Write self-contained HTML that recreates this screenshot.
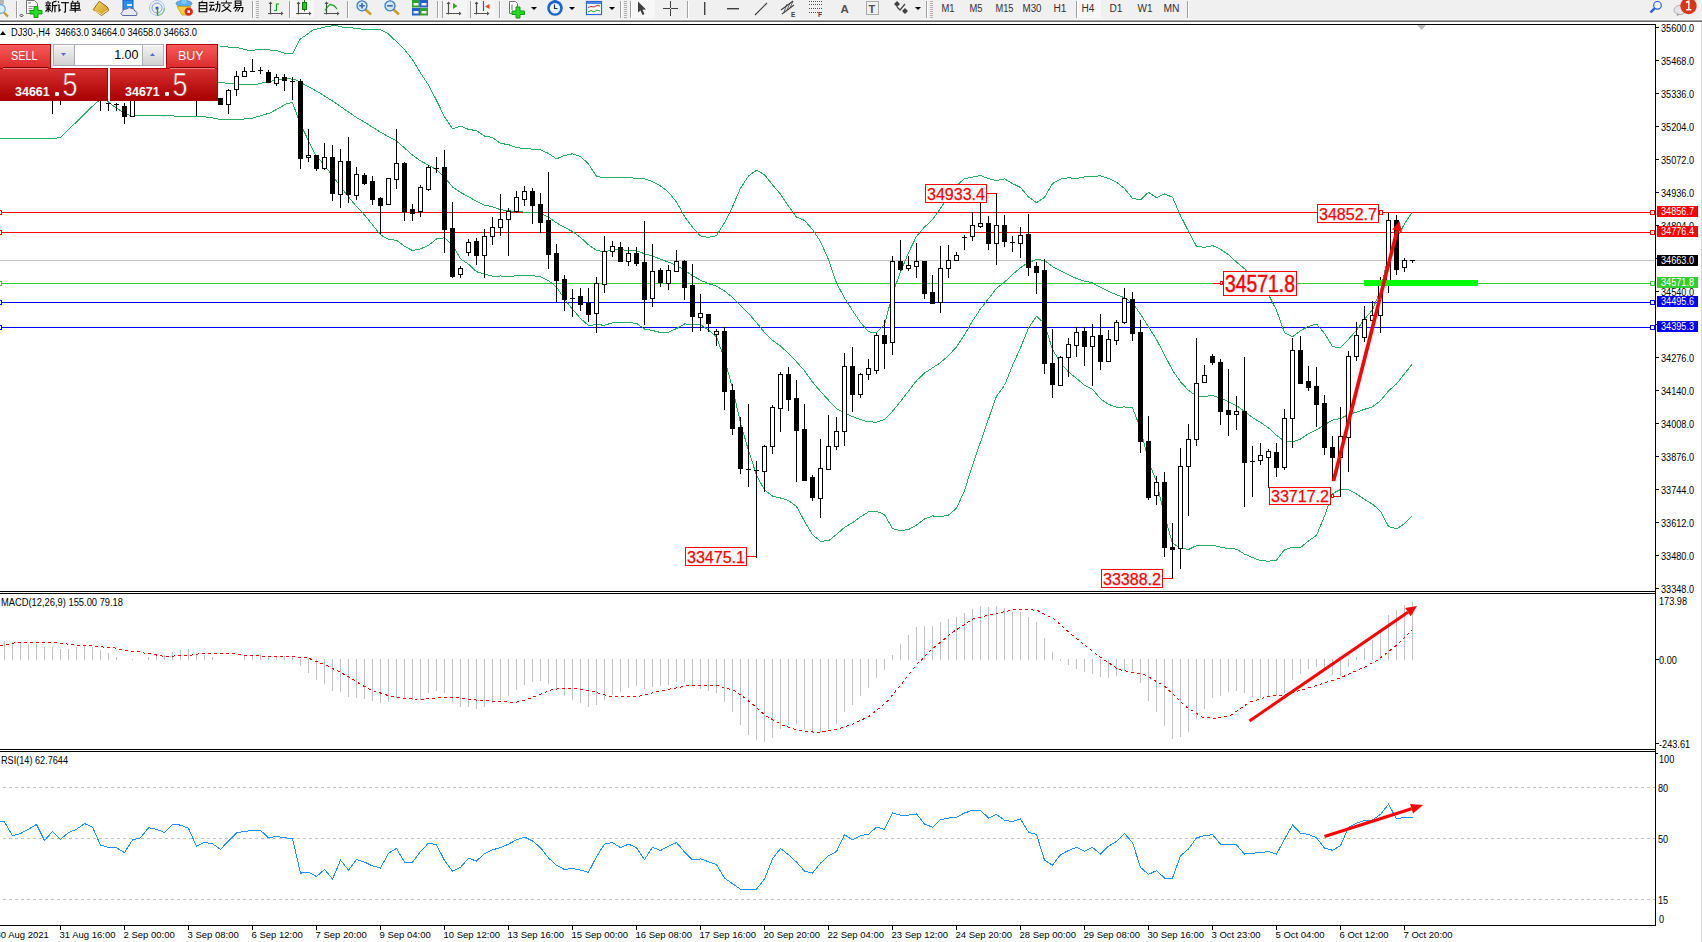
<!DOCTYPE html><html><head><meta charset="utf-8"><style>html,body{margin:0;padding:0;background:#fff;width:1702px;height:942px;overflow:hidden}svg{position:absolute;left:0;top:0}</style></head><body>
<svg width="1702" height="942" viewBox="0 0 1702 942">
<g shape-rendering="crispEdges">
<rect x="0" y="0" width="1702" height="20" fill="#f0f0f0"/>
<rect x="0" y="19" width="1702" height="1" fill="#f8f8f8"/>
<rect x="0" y="20" width="1702" height="1" fill="#a4a4a4"/>
<rect x="0" y="21" width="1702" height="1" fill="#6a6a6a"/>
<rect x="0" y="22" width="1702" height="2" fill="#ffffff"/>
</g>
<g shape-rendering="crispEdges">
<rect x="0" y="24" width="1655" height="1" fill="#000"/>
<rect x="0" y="591" width="1655" height="1" fill="#000"/>
<rect x="0" y="593" width="1655" height="1" fill="#000"/>
<rect x="0" y="749" width="1655" height="1" fill="#000"/>
<rect x="0" y="751" width="1655" height="1" fill="#000"/>
<rect x="0" y="925" width="1655" height="1" fill="#000"/>
<rect x="1655" y="24" width="1" height="902" fill="#000"/>
<rect x="1701" y="22" width="1" height="920" fill="#d6d6d6"/>
</g>
<g shape-rendering="crispEdges">
<rect x="0" y="212" width="1655" height="1" fill="#ff0000"/>
<rect x="1650.5" y="210.5" width="4" height="4" fill="#fff" stroke="#ff0000" stroke-width="1"/>
<rect x="-2.5" y="210.5" width="4" height="4" fill="#fff" stroke="#ff0000" stroke-width="1"/>
<rect x="0" y="232" width="1655" height="1" fill="#ff0000"/>
<rect x="1650.5" y="230.5" width="4" height="4" fill="#fff" stroke="#ff0000" stroke-width="1"/>
<rect x="-2.5" y="230.5" width="4" height="4" fill="#fff" stroke="#ff0000" stroke-width="1"/>
<rect x="0" y="260" width="1655" height="1" fill="#c0c0c0"/>
<rect x="0" y="283" width="1655" height="1" fill="#33cc33"/>
<rect x="1650.5" y="281.5" width="4" height="4" fill="#fff" stroke="#33cc33" stroke-width="1"/>
<rect x="-2.5" y="281.5" width="4" height="4" fill="#fff" stroke="#33cc33" stroke-width="1"/>
<rect x="0" y="302" width="1655" height="1" fill="#0000ff"/>
<rect x="1650.5" y="300.5" width="4" height="4" fill="#fff" stroke="#0000ff" stroke-width="1"/>
<rect x="-2.5" y="300.5" width="4" height="4" fill="#fff" stroke="#0000ff" stroke-width="1"/>
<rect x="0" y="327" width="1655" height="1" fill="#0000ff"/>
<rect x="1650.5" y="325.5" width="4" height="4" fill="#fff" stroke="#0000ff" stroke-width="1"/>
<rect x="-2.5" y="325.5" width="4" height="4" fill="#fff" stroke="#0000ff" stroke-width="1"/>
</g>
<polyline points="220.0,46.6 237.5,47.5 251.0,51.1 258.0,49.2 277.0,50.5 284.0,53.0 293.0,53.0 300.0,39.4 313.0,30.0 327.0,26.4 337.0,25.5 340.0,26.8 356.5,28.3 364.5,29.5 372.5,29.5 380.5,29.6 388.5,34.0 396.5,41.7 404.5,49.7 412.5,59.6 420.5,73.0 428.5,85.0 436.5,100.5 444.5,116.7 452.5,128.8 460.5,126.1 468.5,129.4 476.5,130.6 484.5,136.1 492.5,137.4 500.5,143.4 508.5,144.6 516.5,147.6 524.5,148.6 532.5,149.1 540.5,149.9 548.5,153.5 556.5,158.8 564.5,155.5 572.5,153.8 580.5,156.4 588.5,164.0 596.5,176.3 604.5,178.0 612.5,177.4 620.5,177.3 628.5,177.9 636.5,178.1 644.5,178.7 652.5,181.6 660.5,185.9 668.5,192.2 676.5,202.1 684.5,216.3 692.5,227.3 700.5,235.9 708.5,237.4 716.5,235.6 724.5,222.7 732.5,206.7 740.5,188.2 748.5,176.0 756.5,170.2 764.5,174.7 772.5,184.8 780.5,194.2 788.5,206.2 796.5,217.0 804.5,220.4 812.5,229.4 820.5,241.6 828.5,259.6 836.5,283.0 844.5,298.0 852.5,310.4 860.5,322.4 868.5,331.8 876.5,332.8 884.5,324.8 892.5,294.1 900.5,271.9 908.5,252.8 916.5,236.3 924.5,227.1 932.5,219.8 940.5,208.3 948.5,196.1 956.5,185.4 964.5,178.7 972.5,177.1 980.5,175.6 988.5,178.5 996.5,180.7 1004.5,178.8 1012.5,183.6 1020.5,187.5 1028.5,197.0 1036.5,202.6 1044.5,197.3 1052.5,183.6 1060.5,179.1 1068.5,177.8 1076.5,178.5 1084.5,177.0 1092.5,176.3 1100.5,175.9 1108.5,178.4 1116.5,182.3 1124.5,188.5 1132.5,198.3 1140.5,199.8 1148.5,192.3 1156.5,197.6 1164.5,194.0 1172.5,197.2 1180.5,215.7 1188.5,231.3 1196.5,246.3 1204.5,247.4 1212.5,245.6 1220.5,249.2 1228.5,254.7 1236.5,262.1 1244.5,268.7 1252.5,277.8 1260.5,284.1 1268.5,294.7 1276.5,310.2 1284.5,332.7 1292.5,336.8 1300.5,330.7 1308.5,326.4 1316.5,324.1 1324.5,333.3 1332.5,346.7 1340.5,347.8 1348.5,339.3 1356.5,330.3 1364.5,319.2 1372.5,309.8 1380.5,290.0 1388.5,255.5 1396.5,238.8 1404.5,223.8 1412.5,211.6" fill="none" stroke="#26ad62" stroke-width="1" shape-rendering="crispEdges"/>
<polyline points="0.0,80.0 210.0,82.0 220.0,82.5 240.0,84.5 255.0,84.7 268.0,81.7 288.0,78.3 297.0,80.3 305.0,84.8 320.0,93.0 337.0,104.0 350.0,113.0 356.5,117.5 364.5,122.2 372.5,127.2 380.5,132.2 388.5,136.7 396.5,141.0 404.5,148.0 412.5,155.1 420.5,160.9 428.5,165.2 436.5,169.8 444.5,177.2 452.5,186.9 460.5,192.4 468.5,196.8 476.5,201.2 484.5,205.1 492.5,206.8 500.5,209.7 508.5,210.6 516.5,211.7 524.5,212.1 532.5,212.4 540.5,213.2 548.5,217.1 556.5,222.9 564.5,227.3 572.5,231.6 580.5,237.4 588.5,244.8 596.5,250.5 604.5,251.6 612.5,250.1 620.5,249.8 628.5,250.3 636.5,250.7 644.5,253.8 652.5,256.1 660.5,259.2 668.5,262.1 676.5,265.4 684.5,270.1 692.5,275.7 700.5,280.2 708.5,283.7 716.5,286.2 724.5,290.9 732.5,297.4 740.5,305.6 748.5,313.3 756.5,322.6 764.5,332.4 772.5,340.4 780.5,346.1 788.5,353.4 796.5,361.8 804.5,370.8 812.5,382.1 820.5,391.4 828.5,400.2 836.5,408.7 844.5,412.6 852.5,416.6 860.5,419.6 868.5,421.9 876.5,422.1 884.5,419.6 892.5,411.3 900.5,401.4 908.5,391.1 916.5,380.7 924.5,373.1 932.5,367.9 940.5,362.6 948.5,355.6 956.5,346.9 964.5,334.7 972.5,321.1 980.5,308.9 988.5,298.7 996.5,288.4 1004.5,282.1 1012.5,274.6 1020.5,267.6 1028.5,262.6 1036.5,259.4 1044.5,260.4 1052.5,266.6 1060.5,270.9 1068.5,274.9 1076.5,278.4 1084.5,281.1 1092.5,282.8 1100.5,287.4 1108.5,291.4 1116.5,294.7 1124.5,297.8 1132.5,303.1 1140.5,314.1 1148.5,326.8 1156.5,339.6 1164.5,354.9 1172.5,370.2 1180.5,381.8 1188.5,390.4 1196.5,395.9 1204.5,396.6 1212.5,395.4 1220.5,398.1 1228.5,401.6 1236.5,405.6 1244.5,411.4 1252.5,417.6 1260.5,422.4 1268.5,427.9 1276.5,435.2 1284.5,441.2 1292.5,442.1 1300.5,439.1 1308.5,433.6 1316.5,429.8 1324.5,424.8 1332.5,420.1 1340.5,418.6 1348.5,414.5 1356.5,412.1 1364.5,409.3 1372.5,406.9 1380.5,400.6 1388.5,390.9 1396.5,383.9 1404.5,373.8 1412.5,363.7" fill="none" stroke="#26ad62" stroke-width="1" shape-rendering="crispEdges"/>
<polyline points="0.0,138.2 56.0,138.2 61.0,137.0 95.5,103.3 100.0,100.0 106.0,100.0 111.0,104.2 122.4,112.0 130.0,115.5 136.5,115.5 196.0,116.3 210.0,117.3 220.0,119.5 240.0,119.5 253.0,118.0 270.0,113.0 280.0,107.5 287.0,103.5 292.5,102.6 297.0,115.0 302.5,128.5 315.0,153.8 329.5,171.8 345.8,193.5 356.5,206.7 364.5,214.8 372.5,224.9 380.5,234.9 388.5,239.3 396.5,240.3 404.5,246.3 412.5,250.6 420.5,248.9 428.5,245.4 436.5,239.0 444.5,237.7 452.5,245.1 460.5,258.8 468.5,264.2 476.5,271.7 484.5,274.1 492.5,276.2 500.5,276.0 508.5,276.5 516.5,275.8 524.5,275.6 532.5,275.7 540.5,276.6 548.5,280.6 556.5,287.0 564.5,299.1 572.5,309.3 580.5,318.4 588.5,325.5 596.5,324.7 604.5,325.2 612.5,322.8 620.5,322.2 628.5,322.7 636.5,323.3 644.5,329.0 652.5,330.5 660.5,332.5 668.5,332.1 676.5,328.6 684.5,324.0 692.5,324.1 700.5,324.6 708.5,330.0 716.5,336.9 724.5,359.0 732.5,388.0 740.5,422.9 748.5,450.6 756.5,475.1 764.5,490.1 772.5,496.1 780.5,498.0 788.5,500.6 796.5,506.5 804.5,521.2 812.5,534.8 820.5,541.2 828.5,540.8 836.5,534.4 844.5,527.3 852.5,522.7 860.5,516.8 868.5,511.9 876.5,511.3 884.5,514.5 892.5,528.5 900.5,530.8 908.5,529.5 916.5,525.1 924.5,519.0 932.5,515.9 940.5,516.8 948.5,515.1 956.5,508.3 964.5,490.7 972.5,465.1 980.5,442.1 988.5,418.9 996.5,396.1 1004.5,385.5 1012.5,365.5 1020.5,347.7 1028.5,328.1 1036.5,316.2 1044.5,323.5 1052.5,349.5 1060.5,362.8 1068.5,372.0 1076.5,378.4 1084.5,385.2 1092.5,389.2 1100.5,398.9 1108.5,404.3 1116.5,407.1 1124.5,407.0 1132.5,408.0 1140.5,428.3 1148.5,461.2 1156.5,481.6 1164.5,515.8 1172.5,543.3 1180.5,547.9 1188.5,549.5 1196.5,545.6 1204.5,545.7 1212.5,545.3 1220.5,547.1 1228.5,548.6 1236.5,549.1 1244.5,554.1 1252.5,557.5 1260.5,560.6 1268.5,561.2 1276.5,560.2 1284.5,549.7 1292.5,547.3 1300.5,547.6 1308.5,540.9 1316.5,535.4 1324.5,516.2 1332.5,493.6 1340.5,489.5 1348.5,489.7 1356.5,493.9 1364.5,499.4 1372.5,504.1 1380.5,511.3 1388.5,526.4 1396.5,528.9 1404.5,523.7 1412.5,515.8" fill="none" stroke="#26ad62" stroke-width="1" shape-rendering="crispEdges"/>
<g shape-rendering="crispEdges">
<rect x="4" y="75" width="1" height="25" fill="#000"/>
<rect x="2" y="80" width="5" height="16" fill="#000"/>
<rect x="3" y="81" width="3" height="14" fill="#fff"/>
<rect x="12" y="72" width="1" height="25" fill="#000"/>
<rect x="10" y="78" width="5" height="13" fill="#000"/>
<rect x="20" y="76" width="1" height="23" fill="#000"/>
<rect x="18" y="82" width="5" height="11" fill="#000"/>
<rect x="19" y="83" width="3" height="9" fill="#fff"/>
<rect x="28" y="70" width="1" height="26" fill="#000"/>
<rect x="26" y="75" width="5" height="14" fill="#000"/>
<rect x="36" y="74" width="1" height="23" fill="#000"/>
<rect x="34" y="80" width="5" height="11" fill="#000"/>
<rect x="35" y="81" width="3" height="9" fill="#fff"/>
<rect x="44" y="78" width="1" height="22" fill="#000"/>
<rect x="42" y="84" width="5" height="13" fill="#000"/>
<rect x="52" y="80" width="1" height="34" fill="#000"/>
<rect x="50" y="85" width="5" height="13" fill="#000"/>
<rect x="60" y="85" width="1" height="20" fill="#000"/>
<rect x="58" y="90" width="5" height="9" fill="#000"/>
<rect x="59" y="91" width="3" height="7" fill="#fff"/>
<rect x="68" y="75" width="1" height="25" fill="#000"/>
<rect x="66" y="80" width="5" height="13" fill="#000"/>
<rect x="76" y="76" width="1" height="23" fill="#000"/>
<rect x="74" y="82" width="5" height="11" fill="#000"/>
<rect x="75" y="83" width="3" height="9" fill="#fff"/>
<rect x="84" y="72" width="1" height="25" fill="#000"/>
<rect x="82" y="78" width="5" height="13" fill="#000"/>
<rect x="92" y="74" width="1" height="26" fill="#000"/>
<rect x="90" y="80" width="5" height="15" fill="#000"/>
<rect x="91" y="81" width="3" height="13" fill="#fff"/>
<rect x="100" y="82" width="1" height="29" fill="#000"/>
<rect x="98" y="88" width="5" height="11" fill="#000"/>
<rect x="108" y="103" width="1" height="8" fill="#000"/>
<rect x="106" y="103" width="5" height="1" fill="#000"/>
<rect x="116" y="103" width="1" height="8" fill="#000"/>
<rect x="114" y="104" width="5" height="1" fill="#000"/>
<rect x="124" y="103" width="1" height="21" fill="#000"/>
<rect x="122" y="106" width="5" height="11" fill="#000"/>
<rect x="132" y="88" width="1" height="29" fill="#000"/>
<rect x="130" y="92" width="5" height="25" fill="#000"/>
<rect x="131" y="93" width="3" height="23" fill="#fff"/>
<rect x="140" y="80" width="1" height="21" fill="#000"/>
<rect x="138" y="86" width="5" height="11" fill="#000"/>
<rect x="139" y="87" width="3" height="9" fill="#fff"/>
<rect x="148" y="78" width="1" height="22" fill="#000"/>
<rect x="146" y="84" width="5" height="11" fill="#000"/>
<rect x="156" y="76" width="1" height="23" fill="#000"/>
<rect x="154" y="82" width="5" height="11" fill="#000"/>
<rect x="155" y="83" width="3" height="9" fill="#fff"/>
<rect x="164" y="78" width="1" height="22" fill="#000"/>
<rect x="162" y="84" width="5" height="12" fill="#000"/>
<rect x="172" y="77" width="1" height="23" fill="#000"/>
<rect x="170" y="83" width="5" height="11" fill="#000"/>
<rect x="171" y="84" width="3" height="9" fill="#fff"/>
<rect x="180" y="80" width="1" height="20" fill="#000"/>
<rect x="178" y="85" width="5" height="11" fill="#000"/>
<rect x="188" y="80" width="1" height="21" fill="#000"/>
<rect x="186" y="86" width="5" height="11" fill="#000"/>
<rect x="187" y="87" width="3" height="9" fill="#fff"/>
<rect x="196" y="82" width="1" height="34" fill="#000"/>
<rect x="194" y="88" width="5" height="11" fill="#000"/>
<rect x="204" y="84" width="1" height="17" fill="#000"/>
<rect x="202" y="90" width="5" height="10" fill="#000"/>
<rect x="203" y="91" width="3" height="8" fill="#fff"/>
<rect x="212" y="82" width="1" height="19" fill="#000"/>
<rect x="210" y="88" width="5" height="11" fill="#000"/>
<rect x="220" y="98" width="1" height="7" fill="#000"/>
<rect x="218" y="98" width="5" height="7" fill="#000"/>
<rect x="228" y="89" width="1" height="25" fill="#000"/>
<rect x="226" y="90" width="5" height="15" fill="#000"/>
<rect x="227" y="91" width="3" height="13" fill="#fff"/>
<rect x="236" y="71" width="1" height="25" fill="#000"/>
<rect x="234" y="76" width="5" height="14" fill="#000"/>
<rect x="235" y="77" width="3" height="12" fill="#fff"/>
<rect x="244" y="67" width="1" height="10" fill="#000"/>
<rect x="242" y="71" width="5" height="6" fill="#000"/>
<rect x="243" y="72" width="3" height="4" fill="#fff"/>
<rect x="252" y="59" width="1" height="13" fill="#000"/>
<rect x="250" y="71" width="5" height="1" fill="#000"/>
<rect x="260" y="67" width="1" height="7" fill="#000"/>
<rect x="258" y="70" width="5" height="1" fill="#000"/>
<rect x="268" y="70" width="1" height="13" fill="#000"/>
<rect x="266" y="72" width="5" height="11" fill="#000"/>
<rect x="276" y="74" width="1" height="12" fill="#000"/>
<rect x="274" y="77" width="5" height="7" fill="#000"/>
<rect x="275" y="78" width="3" height="5" fill="#fff"/>
<rect x="284" y="74" width="1" height="17" fill="#000"/>
<rect x="282" y="77" width="5" height="4" fill="#000"/>
<rect x="292" y="77" width="1" height="23" fill="#000"/>
<rect x="290" y="81" width="5" height="1" fill="#000"/>
<rect x="300" y="79" width="1" height="90" fill="#000"/>
<rect x="298" y="81" width="5" height="78" fill="#000"/>
<rect x="308" y="129" width="1" height="33" fill="#000"/>
<rect x="306" y="155" width="5" height="3" fill="#000"/>
<rect x="307" y="156" width="3" height="1" fill="#fff"/>
<rect x="316" y="155" width="1" height="16" fill="#000"/>
<rect x="314" y="155" width="5" height="14" fill="#000"/>
<rect x="324" y="143" width="1" height="27" fill="#000"/>
<rect x="322" y="157" width="5" height="12" fill="#000"/>
<rect x="323" y="158" width="3" height="10" fill="#fff"/>
<rect x="332" y="145" width="1" height="56" fill="#000"/>
<rect x="330" y="157" width="5" height="37" fill="#000"/>
<rect x="340" y="149" width="1" height="59" fill="#000"/>
<rect x="338" y="161" width="5" height="34" fill="#000"/>
<rect x="339" y="162" width="3" height="32" fill="#fff"/>
<rect x="348" y="137" width="1" height="66" fill="#000"/>
<rect x="346" y="161" width="5" height="34" fill="#000"/>
<rect x="356" y="167" width="1" height="33" fill="#000"/>
<rect x="354" y="174" width="5" height="22" fill="#000"/>
<rect x="355" y="175" width="3" height="20" fill="#fff"/>
<rect x="364" y="173" width="1" height="12" fill="#000"/>
<rect x="362" y="175" width="5" height="9" fill="#000"/>
<rect x="372" y="176" width="1" height="29" fill="#000"/>
<rect x="370" y="181" width="5" height="19" fill="#000"/>
<rect x="380" y="197" width="1" height="37" fill="#000"/>
<rect x="378" y="198" width="5" height="8" fill="#000"/>
<rect x="388" y="178" width="1" height="27" fill="#000"/>
<rect x="386" y="178" width="5" height="27" fill="#000"/>
<rect x="387" y="179" width="3" height="25" fill="#fff"/>
<rect x="396" y="129" width="1" height="60" fill="#000"/>
<rect x="394" y="163" width="5" height="17" fill="#000"/>
<rect x="395" y="164" width="3" height="15" fill="#fff"/>
<rect x="404" y="162" width="1" height="59" fill="#000"/>
<rect x="402" y="163" width="5" height="49" fill="#000"/>
<rect x="412" y="204" width="1" height="17" fill="#000"/>
<rect x="410" y="209" width="5" height="5" fill="#000"/>
<rect x="420" y="185" width="1" height="32" fill="#000"/>
<rect x="418" y="187" width="5" height="25" fill="#000"/>
<rect x="419" y="188" width="3" height="23" fill="#fff"/>
<rect x="428" y="165" width="1" height="26" fill="#000"/>
<rect x="426" y="167" width="5" height="23" fill="#000"/>
<rect x="427" y="168" width="3" height="21" fill="#fff"/>
<rect x="436" y="157" width="1" height="16" fill="#000"/>
<rect x="434" y="168" width="5" height="1" fill="#000"/>
<rect x="444" y="150" width="1" height="103" fill="#000"/>
<rect x="442" y="167" width="5" height="63" fill="#000"/>
<rect x="452" y="202" width="1" height="76" fill="#000"/>
<rect x="450" y="228" width="5" height="49" fill="#000"/>
<rect x="460" y="266" width="1" height="12" fill="#000"/>
<rect x="458" y="268" width="5" height="7" fill="#000"/>
<rect x="459" y="269" width="3" height="5" fill="#fff"/>
<rect x="468" y="239" width="1" height="17" fill="#000"/>
<rect x="466" y="242" width="5" height="11" fill="#000"/>
<rect x="467" y="243" width="3" height="9" fill="#fff"/>
<rect x="476" y="238" width="1" height="27" fill="#000"/>
<rect x="474" y="241" width="5" height="15" fill="#000"/>
<rect x="484" y="229" width="1" height="49" fill="#000"/>
<rect x="482" y="236" width="5" height="20" fill="#000"/>
<rect x="483" y="237" width="3" height="18" fill="#fff"/>
<rect x="492" y="217" width="1" height="28" fill="#000"/>
<rect x="490" y="227" width="5" height="10" fill="#000"/>
<rect x="491" y="228" width="3" height="8" fill="#fff"/>
<rect x="500" y="194" width="1" height="42" fill="#000"/>
<rect x="498" y="219" width="5" height="9" fill="#000"/>
<rect x="499" y="220" width="3" height="7" fill="#fff"/>
<rect x="508" y="208" width="1" height="48" fill="#000"/>
<rect x="506" y="211" width="5" height="9" fill="#000"/>
<rect x="507" y="212" width="3" height="7" fill="#fff"/>
<rect x="516" y="191" width="1" height="22" fill="#000"/>
<rect x="514" y="197" width="5" height="15" fill="#000"/>
<rect x="515" y="198" width="3" height="13" fill="#fff"/>
<rect x="524" y="186" width="1" height="20" fill="#000"/>
<rect x="522" y="191" width="5" height="9" fill="#000"/>
<rect x="523" y="192" width="3" height="7" fill="#fff"/>
<rect x="532" y="188" width="1" height="36" fill="#000"/>
<rect x="530" y="191" width="5" height="15" fill="#000"/>
<rect x="540" y="193" width="1" height="40" fill="#000"/>
<rect x="538" y="204" width="5" height="19" fill="#000"/>
<rect x="548" y="172" width="1" height="97" fill="#000"/>
<rect x="546" y="220" width="5" height="35" fill="#000"/>
<rect x="556" y="244" width="1" height="58" fill="#000"/>
<rect x="554" y="253" width="5" height="28" fill="#000"/>
<rect x="564" y="275" width="1" height="36" fill="#000"/>
<rect x="562" y="279" width="5" height="21" fill="#000"/>
<rect x="572" y="289" width="1" height="28" fill="#000"/>
<rect x="570" y="298" width="5" height="1" fill="#000"/>
<rect x="580" y="288" width="1" height="23" fill="#000"/>
<rect x="578" y="296" width="5" height="9" fill="#000"/>
<rect x="588" y="288" width="1" height="34" fill="#000"/>
<rect x="586" y="303" width="5" height="12" fill="#000"/>
<rect x="596" y="277" width="1" height="56" fill="#000"/>
<rect x="594" y="283" width="5" height="31" fill="#000"/>
<rect x="595" y="284" width="3" height="29" fill="#fff"/>
<rect x="604" y="236" width="1" height="57" fill="#000"/>
<rect x="602" y="251" width="5" height="34" fill="#000"/>
<rect x="603" y="252" width="3" height="32" fill="#fff"/>
<rect x="612" y="241" width="1" height="16" fill="#000"/>
<rect x="610" y="246" width="5" height="6" fill="#000"/>
<rect x="611" y="247" width="3" height="4" fill="#fff"/>
<rect x="620" y="242" width="1" height="20" fill="#000"/>
<rect x="618" y="247" width="5" height="15" fill="#000"/>
<rect x="628" y="247" width="1" height="19" fill="#000"/>
<rect x="626" y="253" width="5" height="9" fill="#000"/>
<rect x="627" y="254" width="3" height="7" fill="#fff"/>
<rect x="636" y="247" width="1" height="19" fill="#000"/>
<rect x="634" y="253" width="5" height="11" fill="#000"/>
<rect x="644" y="221" width="1" height="104" fill="#000"/>
<rect x="642" y="262" width="5" height="38" fill="#000"/>
<rect x="652" y="244" width="1" height="63" fill="#000"/>
<rect x="650" y="271" width="5" height="28" fill="#000"/>
<rect x="651" y="272" width="3" height="26" fill="#fff"/>
<rect x="660" y="268" width="1" height="19" fill="#000"/>
<rect x="658" y="270" width="5" height="13" fill="#000"/>
<rect x="668" y="265" width="1" height="25" fill="#000"/>
<rect x="666" y="270" width="5" height="14" fill="#000"/>
<rect x="667" y="271" width="3" height="12" fill="#fff"/>
<rect x="676" y="250" width="1" height="22" fill="#000"/>
<rect x="674" y="261" width="5" height="11" fill="#000"/>
<rect x="675" y="262" width="3" height="9" fill="#fff"/>
<rect x="684" y="260" width="1" height="40" fill="#000"/>
<rect x="682" y="261" width="5" height="27" fill="#000"/>
<rect x="692" y="264" width="1" height="68" fill="#000"/>
<rect x="690" y="285" width="5" height="32" fill="#000"/>
<rect x="700" y="294" width="1" height="37" fill="#000"/>
<rect x="698" y="313" width="5" height="5" fill="#000"/>
<rect x="699" y="314" width="3" height="3" fill="#fff"/>
<rect x="708" y="314" width="1" height="18" fill="#000"/>
<rect x="706" y="314" width="5" height="10" fill="#000"/>
<rect x="716" y="329" width="1" height="17" fill="#000"/>
<rect x="714" y="331" width="5" height="4" fill="#000"/>
<rect x="715" y="332" width="3" height="2" fill="#fff"/>
<rect x="724" y="327" width="1" height="83" fill="#000"/>
<rect x="722" y="331" width="5" height="61" fill="#000"/>
<rect x="732" y="384" width="1" height="51" fill="#000"/>
<rect x="730" y="390" width="5" height="39" fill="#000"/>
<rect x="740" y="417" width="1" height="57" fill="#000"/>
<rect x="738" y="427" width="5" height="42" fill="#000"/>
<rect x="748" y="404" width="1" height="83" fill="#000"/>
<rect x="746" y="469" width="5" height="1" fill="#000"/>
<rect x="756" y="461" width="1" height="97" fill="#000"/>
<rect x="754" y="470" width="5" height="1" fill="#000"/>
<rect x="764" y="445" width="1" height="47" fill="#000"/>
<rect x="762" y="446" width="5" height="26" fill="#000"/>
<rect x="763" y="447" width="3" height="24" fill="#fff"/>
<rect x="772" y="405" width="1" height="49" fill="#000"/>
<rect x="770" y="407" width="5" height="40" fill="#000"/>
<rect x="771" y="408" width="3" height="38" fill="#fff"/>
<rect x="780" y="372" width="1" height="60" fill="#000"/>
<rect x="778" y="374" width="5" height="35" fill="#000"/>
<rect x="779" y="375" width="3" height="33" fill="#fff"/>
<rect x="788" y="367" width="1" height="44" fill="#000"/>
<rect x="786" y="374" width="5" height="26" fill="#000"/>
<rect x="796" y="380" width="1" height="102" fill="#000"/>
<rect x="794" y="398" width="5" height="33" fill="#000"/>
<rect x="804" y="404" width="1" height="77" fill="#000"/>
<rect x="802" y="429" width="5" height="52" fill="#000"/>
<rect x="812" y="475" width="1" height="26" fill="#000"/>
<rect x="810" y="477" width="5" height="21" fill="#000"/>
<rect x="820" y="439" width="1" height="79" fill="#000"/>
<rect x="818" y="468" width="5" height="31" fill="#000"/>
<rect x="819" y="469" width="3" height="29" fill="#fff"/>
<rect x="828" y="415" width="1" height="55" fill="#000"/>
<rect x="826" y="446" width="5" height="24" fill="#000"/>
<rect x="827" y="447" width="3" height="22" fill="#fff"/>
<rect x="836" y="417" width="1" height="33" fill="#000"/>
<rect x="834" y="431" width="5" height="16" fill="#000"/>
<rect x="835" y="432" width="3" height="14" fill="#fff"/>
<rect x="844" y="353" width="1" height="93" fill="#000"/>
<rect x="842" y="366" width="5" height="66" fill="#000"/>
<rect x="843" y="367" width="3" height="64" fill="#fff"/>
<rect x="852" y="347" width="1" height="65" fill="#000"/>
<rect x="850" y="366" width="5" height="29" fill="#000"/>
<rect x="860" y="373" width="1" height="25" fill="#000"/>
<rect x="858" y="374" width="5" height="21" fill="#000"/>
<rect x="859" y="375" width="3" height="19" fill="#fff"/>
<rect x="868" y="359" width="1" height="21" fill="#000"/>
<rect x="866" y="368" width="5" height="7" fill="#000"/>
<rect x="867" y="369" width="3" height="5" fill="#fff"/>
<rect x="876" y="333" width="1" height="41" fill="#000"/>
<rect x="874" y="335" width="5" height="36" fill="#000"/>
<rect x="875" y="336" width="3" height="34" fill="#fff"/>
<rect x="884" y="320" width="1" height="49" fill="#000"/>
<rect x="882" y="335" width="5" height="9" fill="#000"/>
<rect x="892" y="256" width="1" height="99" fill="#000"/>
<rect x="890" y="261" width="5" height="82" fill="#000"/>
<rect x="891" y="262" width="3" height="80" fill="#fff"/>
<rect x="900" y="240" width="1" height="31" fill="#000"/>
<rect x="898" y="261" width="5" height="9" fill="#000"/>
<rect x="908" y="256" width="1" height="15" fill="#000"/>
<rect x="906" y="265" width="5" height="4" fill="#000"/>
<rect x="907" y="266" width="3" height="2" fill="#fff"/>
<rect x="916" y="243" width="1" height="35" fill="#000"/>
<rect x="914" y="261" width="5" height="6" fill="#000"/>
<rect x="915" y="262" width="3" height="4" fill="#fff"/>
<rect x="924" y="261" width="1" height="38" fill="#000"/>
<rect x="922" y="261" width="5" height="33" fill="#000"/>
<rect x="932" y="275" width="1" height="29" fill="#000"/>
<rect x="930" y="292" width="5" height="12" fill="#000"/>
<rect x="940" y="246" width="1" height="67" fill="#000"/>
<rect x="938" y="268" width="5" height="35" fill="#000"/>
<rect x="939" y="269" width="3" height="33" fill="#fff"/>
<rect x="948" y="245" width="1" height="33" fill="#000"/>
<rect x="946" y="260" width="5" height="9" fill="#000"/>
<rect x="947" y="261" width="3" height="7" fill="#fff"/>
<rect x="956" y="252" width="1" height="9" fill="#000"/>
<rect x="954" y="255" width="5" height="6" fill="#000"/>
<rect x="955" y="256" width="3" height="4" fill="#fff"/>
<rect x="964" y="235" width="1" height="15" fill="#000"/>
<rect x="962" y="237" width="5" height="1" fill="#000"/>
<rect x="972" y="212" width="1" height="29" fill="#000"/>
<rect x="970" y="225" width="5" height="12" fill="#000"/>
<rect x="971" y="226" width="3" height="10" fill="#fff"/>
<rect x="980" y="201" width="1" height="27" fill="#000"/>
<rect x="978" y="223" width="5" height="4" fill="#000"/>
<rect x="979" y="224" width="3" height="2" fill="#fff"/>
<rect x="988" y="216" width="1" height="34" fill="#000"/>
<rect x="986" y="223" width="5" height="21" fill="#000"/>
<rect x="996" y="193" width="1" height="72" fill="#000"/>
<rect x="994" y="225" width="5" height="19" fill="#000"/>
<rect x="995" y="226" width="3" height="17" fill="#fff"/>
<rect x="1004" y="215" width="1" height="32" fill="#000"/>
<rect x="1002" y="225" width="5" height="17" fill="#000"/>
<rect x="1012" y="236" width="1" height="16" fill="#000"/>
<rect x="1010" y="242" width="5" height="1" fill="#000"/>
<rect x="1020" y="227" width="1" height="31" fill="#000"/>
<rect x="1018" y="235" width="5" height="9" fill="#000"/>
<rect x="1019" y="236" width="3" height="7" fill="#fff"/>
<rect x="1028" y="214" width="1" height="62" fill="#000"/>
<rect x="1026" y="234" width="5" height="34" fill="#000"/>
<rect x="1036" y="262" width="1" height="32" fill="#000"/>
<rect x="1034" y="266" width="5" height="7" fill="#000"/>
<rect x="1044" y="259" width="1" height="115" fill="#000"/>
<rect x="1042" y="270" width="5" height="94" fill="#000"/>
<rect x="1052" y="329" width="1" height="69" fill="#000"/>
<rect x="1050" y="363" width="5" height="22" fill="#000"/>
<rect x="1060" y="356" width="1" height="30" fill="#000"/>
<rect x="1058" y="357" width="5" height="29" fill="#000"/>
<rect x="1059" y="358" width="3" height="27" fill="#fff"/>
<rect x="1068" y="338" width="1" height="39" fill="#000"/>
<rect x="1066" y="344" width="5" height="14" fill="#000"/>
<rect x="1067" y="345" width="3" height="12" fill="#fff"/>
<rect x="1076" y="327" width="1" height="30" fill="#000"/>
<rect x="1074" y="332" width="5" height="14" fill="#000"/>
<rect x="1075" y="333" width="3" height="12" fill="#fff"/>
<rect x="1084" y="327" width="1" height="39" fill="#000"/>
<rect x="1082" y="331" width="5" height="16" fill="#000"/>
<rect x="1092" y="324" width="1" height="62" fill="#000"/>
<rect x="1090" y="336" width="5" height="11" fill="#000"/>
<rect x="1091" y="337" width="3" height="9" fill="#fff"/>
<rect x="1100" y="314" width="1" height="56" fill="#000"/>
<rect x="1098" y="335" width="5" height="27" fill="#000"/>
<rect x="1108" y="330" width="1" height="32" fill="#000"/>
<rect x="1106" y="339" width="5" height="23" fill="#000"/>
<rect x="1107" y="340" width="3" height="21" fill="#fff"/>
<rect x="1116" y="320" width="1" height="25" fill="#000"/>
<rect x="1114" y="322" width="5" height="19" fill="#000"/>
<rect x="1115" y="323" width="3" height="17" fill="#fff"/>
<rect x="1124" y="288" width="1" height="36" fill="#000"/>
<rect x="1122" y="298" width="5" height="25" fill="#000"/>
<rect x="1123" y="299" width="3" height="23" fill="#fff"/>
<rect x="1132" y="292" width="1" height="49" fill="#000"/>
<rect x="1130" y="299" width="5" height="35" fill="#000"/>
<rect x="1140" y="320" width="1" height="133" fill="#000"/>
<rect x="1138" y="332" width="5" height="110" fill="#000"/>
<rect x="1148" y="416" width="1" height="84" fill="#000"/>
<rect x="1146" y="441" width="5" height="57" fill="#000"/>
<rect x="1156" y="476" width="1" height="29" fill="#000"/>
<rect x="1154" y="482" width="5" height="14" fill="#000"/>
<rect x="1155" y="483" width="3" height="12" fill="#fff"/>
<rect x="1164" y="472" width="1" height="85" fill="#000"/>
<rect x="1162" y="482" width="5" height="66" fill="#000"/>
<rect x="1172" y="523" width="1" height="56" fill="#000"/>
<rect x="1170" y="547" width="5" height="3" fill="#000"/>
<rect x="1180" y="448" width="1" height="121" fill="#000"/>
<rect x="1178" y="466" width="5" height="83" fill="#000"/>
<rect x="1179" y="467" width="3" height="81" fill="#fff"/>
<rect x="1188" y="424" width="1" height="92" fill="#000"/>
<rect x="1186" y="439" width="5" height="28" fill="#000"/>
<rect x="1187" y="440" width="3" height="26" fill="#fff"/>
<rect x="1196" y="338" width="1" height="108" fill="#000"/>
<rect x="1194" y="383" width="5" height="57" fill="#000"/>
<rect x="1195" y="384" width="3" height="55" fill="#fff"/>
<rect x="1204" y="365" width="1" height="18" fill="#000"/>
<rect x="1202" y="375" width="5" height="8" fill="#000"/>
<rect x="1203" y="376" width="3" height="6" fill="#fff"/>
<rect x="1212" y="354" width="1" height="11" fill="#000"/>
<rect x="1210" y="356" width="5" height="7" fill="#000"/>
<rect x="1220" y="359" width="1" height="66" fill="#000"/>
<rect x="1218" y="362" width="5" height="50" fill="#000"/>
<rect x="1228" y="369" width="1" height="67" fill="#000"/>
<rect x="1226" y="410" width="5" height="5" fill="#000"/>
<rect x="1236" y="396" width="1" height="34" fill="#000"/>
<rect x="1234" y="411" width="5" height="4" fill="#000"/>
<rect x="1235" y="412" width="3" height="2" fill="#fff"/>
<rect x="1244" y="357" width="1" height="150" fill="#000"/>
<rect x="1242" y="411" width="5" height="52" fill="#000"/>
<rect x="1252" y="446" width="1" height="51" fill="#000"/>
<rect x="1250" y="461" width="5" height="1" fill="#000"/>
<rect x="1260" y="443" width="1" height="22" fill="#000"/>
<rect x="1258" y="455" width="5" height="6" fill="#000"/>
<rect x="1259" y="456" width="3" height="4" fill="#fff"/>
<rect x="1268" y="449" width="1" height="39" fill="#000"/>
<rect x="1266" y="451" width="5" height="7" fill="#000"/>
<rect x="1267" y="452" width="3" height="5" fill="#fff"/>
<rect x="1276" y="443" width="1" height="34" fill="#000"/>
<rect x="1274" y="452" width="5" height="16" fill="#000"/>
<rect x="1284" y="409" width="1" height="61" fill="#000"/>
<rect x="1282" y="418" width="5" height="50" fill="#000"/>
<rect x="1283" y="419" width="3" height="48" fill="#fff"/>
<rect x="1292" y="338" width="1" height="110" fill="#000"/>
<rect x="1290" y="350" width="5" height="69" fill="#000"/>
<rect x="1291" y="351" width="3" height="67" fill="#fff"/>
<rect x="1300" y="336" width="1" height="48" fill="#000"/>
<rect x="1298" y="350" width="5" height="34" fill="#000"/>
<rect x="1308" y="366" width="1" height="25" fill="#000"/>
<rect x="1306" y="381" width="5" height="7" fill="#000"/>
<rect x="1316" y="367" width="1" height="60" fill="#000"/>
<rect x="1314" y="386" width="5" height="19" fill="#000"/>
<rect x="1324" y="395" width="1" height="60" fill="#000"/>
<rect x="1322" y="403" width="5" height="45" fill="#000"/>
<rect x="1332" y="436" width="1" height="45" fill="#000"/>
<rect x="1330" y="447" width="5" height="11" fill="#000"/>
<rect x="1340" y="407" width="1" height="90" fill="#000"/>
<rect x="1338" y="436" width="5" height="22" fill="#000"/>
<rect x="1339" y="437" width="3" height="20" fill="#fff"/>
<rect x="1348" y="351" width="1" height="121" fill="#000"/>
<rect x="1346" y="356" width="5" height="82" fill="#000"/>
<rect x="1347" y="357" width="3" height="80" fill="#fff"/>
<rect x="1356" y="322" width="1" height="39" fill="#000"/>
<rect x="1354" y="335" width="5" height="22" fill="#000"/>
<rect x="1355" y="336" width="3" height="20" fill="#fff"/>
<rect x="1364" y="306" width="1" height="36" fill="#000"/>
<rect x="1362" y="319" width="5" height="19" fill="#000"/>
<rect x="1363" y="320" width="3" height="17" fill="#fff"/>
<rect x="1372" y="301" width="1" height="20" fill="#000"/>
<rect x="1370" y="315" width="5" height="6" fill="#000"/>
<rect x="1371" y="316" width="3" height="4" fill="#fff"/>
<rect x="1380" y="277" width="1" height="56" fill="#000"/>
<rect x="1378" y="285" width="5" height="31" fill="#000"/>
<rect x="1379" y="286" width="3" height="29" fill="#fff"/>
<rect x="1388" y="213" width="1" height="80" fill="#000"/>
<rect x="1386" y="220" width="5" height="61" fill="#000"/>
<rect x="1387" y="221" width="3" height="59" fill="#fff"/>
<rect x="1396" y="215" width="1" height="60" fill="#000"/>
<rect x="1394" y="220" width="5" height="50" fill="#000"/>
<rect x="1404" y="258" width="1" height="14" fill="#000"/>
<rect x="1402" y="260" width="5" height="8" fill="#000"/>
<rect x="1403" y="261" width="3" height="6" fill="#fff"/>
<rect x="1412" y="260" width="1" height="3" fill="#000"/>
<rect x="1410" y="260" width="5" height="1" fill="#000"/>
</g>
<g shape-rendering="crispEdges">
<rect x="4" y="641" width="1" height="19" fill="#c0c0c0"/>
<rect x="12" y="642" width="1" height="18" fill="#c0c0c0"/>
<rect x="20" y="643" width="1" height="17" fill="#c0c0c0"/>
<rect x="28" y="644" width="1" height="16" fill="#c0c0c0"/>
<rect x="36" y="644" width="1" height="16" fill="#c0c0c0"/>
<rect x="44" y="647" width="1" height="13" fill="#c0c0c0"/>
<rect x="52" y="647" width="1" height="13" fill="#c0c0c0"/>
<rect x="60" y="649" width="1" height="11" fill="#c0c0c0"/>
<rect x="68" y="649" width="1" height="11" fill="#c0c0c0"/>
<rect x="76" y="647" width="1" height="13" fill="#c0c0c0"/>
<rect x="84" y="645" width="1" height="15" fill="#c0c0c0"/>
<rect x="92" y="647" width="1" height="13" fill="#c0c0c0"/>
<rect x="100" y="650" width="1" height="10" fill="#c0c0c0"/>
<rect x="108" y="653" width="1" height="7" fill="#c0c0c0"/>
<rect x="116" y="657" width="1" height="3" fill="#c0c0c0"/>
<rect x="148" y="657" width="1" height="3" fill="#c0c0c0"/>
<rect x="156" y="656" width="1" height="4" fill="#c0c0c0"/>
<rect x="164" y="655" width="1" height="5" fill="#c0c0c0"/>
<rect x="172" y="652" width="1" height="8" fill="#c0c0c0"/>
<rect x="180" y="650" width="1" height="10" fill="#c0c0c0"/>
<rect x="188" y="649" width="1" height="11" fill="#c0c0c0"/>
<rect x="196" y="654" width="1" height="6" fill="#c0c0c0"/>
<rect x="204" y="655" width="1" height="5" fill="#c0c0c0"/>
<rect x="212" y="657" width="1" height="3" fill="#c0c0c0"/>
<rect x="244" y="656" width="1" height="4" fill="#c0c0c0"/>
<rect x="252" y="656" width="1" height="4" fill="#c0c0c0"/>
<rect x="260" y="655" width="1" height="5" fill="#c0c0c0"/>
<rect x="268" y="656" width="1" height="4" fill="#c0c0c0"/>
<rect x="276" y="656" width="1" height="4" fill="#c0c0c0"/>
<rect x="284" y="656" width="1" height="4" fill="#c0c0c0"/>
<rect x="292" y="657" width="1" height="3" fill="#c0c0c0"/>
<rect x="300" y="659" width="1" height="7" fill="#c0c0c0"/>
<rect x="308" y="659" width="1" height="14" fill="#c0c0c0"/>
<rect x="316" y="659" width="1" height="21" fill="#c0c0c0"/>
<rect x="324" y="659" width="1" height="25" fill="#c0c0c0"/>
<rect x="332" y="659" width="1" height="32" fill="#c0c0c0"/>
<rect x="340" y="659" width="1" height="33" fill="#c0c0c0"/>
<rect x="348" y="659" width="1" height="38" fill="#c0c0c0"/>
<rect x="356" y="659" width="1" height="39" fill="#c0c0c0"/>
<rect x="364" y="659" width="1" height="40" fill="#c0c0c0"/>
<rect x="372" y="659" width="1" height="42" fill="#c0c0c0"/>
<rect x="380" y="659" width="1" height="44" fill="#c0c0c0"/>
<rect x="388" y="659" width="1" height="43" fill="#c0c0c0"/>
<rect x="396" y="659" width="1" height="39" fill="#c0c0c0"/>
<rect x="404" y="659" width="1" height="40" fill="#c0c0c0"/>
<rect x="412" y="659" width="1" height="41" fill="#c0c0c0"/>
<rect x="420" y="659" width="1" height="41" fill="#c0c0c0"/>
<rect x="428" y="659" width="1" height="34" fill="#c0c0c0"/>
<rect x="436" y="659" width="1" height="32" fill="#c0c0c0"/>
<rect x="444" y="659" width="1" height="34" fill="#c0c0c0"/>
<rect x="452" y="659" width="1" height="43" fill="#c0c0c0"/>
<rect x="460" y="659" width="1" height="48" fill="#c0c0c0"/>
<rect x="468" y="659" width="1" height="48" fill="#c0c0c0"/>
<rect x="476" y="659" width="1" height="50" fill="#c0c0c0"/>
<rect x="484" y="659" width="1" height="48" fill="#c0c0c0"/>
<rect x="492" y="659" width="1" height="44" fill="#c0c0c0"/>
<rect x="500" y="659" width="1" height="41" fill="#c0c0c0"/>
<rect x="508" y="659" width="1" height="37" fill="#c0c0c0"/>
<rect x="516" y="659" width="1" height="31" fill="#c0c0c0"/>
<rect x="524" y="659" width="1" height="26" fill="#c0c0c0"/>
<rect x="532" y="659" width="1" height="23" fill="#c0c0c0"/>
<rect x="540" y="659" width="1" height="22" fill="#c0c0c0"/>
<rect x="548" y="659" width="1" height="25" fill="#c0c0c0"/>
<rect x="556" y="659" width="1" height="30" fill="#c0c0c0"/>
<rect x="564" y="659" width="1" height="37" fill="#c0c0c0"/>
<rect x="572" y="659" width="1" height="41" fill="#c0c0c0"/>
<rect x="580" y="659" width="1" height="44" fill="#c0c0c0"/>
<rect x="588" y="659" width="1" height="48" fill="#c0c0c0"/>
<rect x="596" y="659" width="1" height="46" fill="#c0c0c0"/>
<rect x="604" y="659" width="1" height="41" fill="#c0c0c0"/>
<rect x="612" y="659" width="1" height="36" fill="#c0c0c0"/>
<rect x="620" y="659" width="1" height="33" fill="#c0c0c0"/>
<rect x="628" y="659" width="1" height="29" fill="#c0c0c0"/>
<rect x="636" y="659" width="1" height="27" fill="#c0c0c0"/>
<rect x="644" y="659" width="1" height="30" fill="#c0c0c0"/>
<rect x="652" y="659" width="1" height="28" fill="#c0c0c0"/>
<rect x="660" y="659" width="1" height="27" fill="#c0c0c0"/>
<rect x="668" y="659" width="1" height="26" fill="#c0c0c0"/>
<rect x="676" y="659" width="1" height="23" fill="#c0c0c0"/>
<rect x="684" y="659" width="1" height="23" fill="#c0c0c0"/>
<rect x="692" y="659" width="1" height="27" fill="#c0c0c0"/>
<rect x="700" y="659" width="1" height="30" fill="#c0c0c0"/>
<rect x="708" y="659" width="1" height="32" fill="#c0c0c0"/>
<rect x="716" y="659" width="1" height="34" fill="#c0c0c0"/>
<rect x="724" y="659" width="1" height="43" fill="#c0c0c0"/>
<rect x="732" y="659" width="1" height="53" fill="#c0c0c0"/>
<rect x="740" y="659" width="1" height="66" fill="#c0c0c0"/>
<rect x="748" y="659" width="1" height="76" fill="#c0c0c0"/>
<rect x="756" y="659" width="1" height="81" fill="#c0c0c0"/>
<rect x="764" y="659" width="1" height="83" fill="#c0c0c0"/>
<rect x="772" y="659" width="1" height="79" fill="#c0c0c0"/>
<rect x="780" y="659" width="1" height="70" fill="#c0c0c0"/>
<rect x="788" y="659" width="1" height="66" fill="#c0c0c0"/>
<rect x="796" y="659" width="1" height="65" fill="#c0c0c0"/>
<rect x="804" y="659" width="1" height="70" fill="#c0c0c0"/>
<rect x="812" y="659" width="1" height="74" fill="#c0c0c0"/>
<rect x="820" y="659" width="1" height="73" fill="#c0c0c0"/>
<rect x="828" y="659" width="1" height="70" fill="#c0c0c0"/>
<rect x="836" y="659" width="1" height="65" fill="#c0c0c0"/>
<rect x="844" y="659" width="1" height="53" fill="#c0c0c0"/>
<rect x="852" y="659" width="1" height="46" fill="#c0c0c0"/>
<rect x="860" y="659" width="1" height="37" fill="#c0c0c0"/>
<rect x="868" y="659" width="1" height="29" fill="#c0c0c0"/>
<rect x="876" y="659" width="1" height="19" fill="#c0c0c0"/>
<rect x="884" y="659" width="1" height="11" fill="#c0c0c0"/>
<rect x="892" y="655" width="1" height="5" fill="#c0c0c0"/>
<rect x="900" y="644" width="1" height="16" fill="#c0c0c0"/>
<rect x="908" y="635" width="1" height="25" fill="#c0c0c0"/>
<rect x="916" y="627" width="1" height="33" fill="#c0c0c0"/>
<rect x="924" y="626" width="1" height="34" fill="#c0c0c0"/>
<rect x="932" y="626" width="1" height="34" fill="#c0c0c0"/>
<rect x="940" y="622" width="1" height="38" fill="#c0c0c0"/>
<rect x="948" y="619" width="1" height="41" fill="#c0c0c0"/>
<rect x="956" y="617" width="1" height="43" fill="#c0c0c0"/>
<rect x="964" y="613" width="1" height="47" fill="#c0c0c0"/>
<rect x="972" y="609" width="1" height="51" fill="#c0c0c0"/>
<rect x="980" y="606" width="1" height="54" fill="#c0c0c0"/>
<rect x="988" y="607" width="1" height="53" fill="#c0c0c0"/>
<rect x="996" y="606" width="1" height="54" fill="#c0c0c0"/>
<rect x="1004" y="608" width="1" height="52" fill="#c0c0c0"/>
<rect x="1012" y="612" width="1" height="48" fill="#c0c0c0"/>
<rect x="1020" y="612" width="1" height="48" fill="#c0c0c0"/>
<rect x="1028" y="617" width="1" height="43" fill="#c0c0c0"/>
<rect x="1036" y="622" width="1" height="38" fill="#c0c0c0"/>
<rect x="1044" y="638" width="1" height="22" fill="#c0c0c0"/>
<rect x="1052" y="652" width="1" height="8" fill="#c0c0c0"/>
<rect x="1060" y="659" width="1" height="2" fill="#c0c0c0"/>
<rect x="1068" y="659" width="1" height="6" fill="#c0c0c0"/>
<rect x="1076" y="659" width="1" height="10" fill="#c0c0c0"/>
<rect x="1084" y="659" width="1" height="13" fill="#c0c0c0"/>
<rect x="1092" y="659" width="1" height="15" fill="#c0c0c0"/>
<rect x="1100" y="659" width="1" height="18" fill="#c0c0c0"/>
<rect x="1108" y="659" width="1" height="19" fill="#c0c0c0"/>
<rect x="1116" y="659" width="1" height="17" fill="#c0c0c0"/>
<rect x="1124" y="659" width="1" height="12" fill="#c0c0c0"/>
<rect x="1132" y="659" width="1" height="12" fill="#c0c0c0"/>
<rect x="1140" y="659" width="1" height="24" fill="#c0c0c0"/>
<rect x="1148" y="659" width="1" height="42" fill="#c0c0c0"/>
<rect x="1156" y="659" width="1" height="53" fill="#c0c0c0"/>
<rect x="1164" y="659" width="1" height="67" fill="#c0c0c0"/>
<rect x="1172" y="659" width="1" height="80" fill="#c0c0c0"/>
<rect x="1180" y="659" width="1" height="78" fill="#c0c0c0"/>
<rect x="1188" y="659" width="1" height="73" fill="#c0c0c0"/>
<rect x="1196" y="659" width="1" height="60" fill="#c0c0c0"/>
<rect x="1204" y="659" width="1" height="50" fill="#c0c0c0"/>
<rect x="1212" y="659" width="1" height="39" fill="#c0c0c0"/>
<rect x="1220" y="659" width="1" height="37" fill="#c0c0c0"/>
<rect x="1228" y="659" width="1" height="33" fill="#c0c0c0"/>
<rect x="1236" y="659" width="1" height="32" fill="#c0c0c0"/>
<rect x="1244" y="659" width="1" height="34" fill="#c0c0c0"/>
<rect x="1252" y="659" width="1" height="38" fill="#c0c0c0"/>
<rect x="1260" y="659" width="1" height="39" fill="#c0c0c0"/>
<rect x="1268" y="659" width="1" height="38" fill="#c0c0c0"/>
<rect x="1276" y="659" width="1" height="37" fill="#c0c0c0"/>
<rect x="1284" y="659" width="1" height="34" fill="#c0c0c0"/>
<rect x="1292" y="659" width="1" height="21" fill="#c0c0c0"/>
<rect x="1300" y="659" width="1" height="15" fill="#c0c0c0"/>
<rect x="1308" y="659" width="1" height="10" fill="#c0c0c0"/>
<rect x="1316" y="659" width="1" height="8" fill="#c0c0c0"/>
<rect x="1324" y="659" width="1" height="11" fill="#c0c0c0"/>
<rect x="1332" y="659" width="1" height="16" fill="#c0c0c0"/>
<rect x="1340" y="659" width="1" height="17" fill="#c0c0c0"/>
<rect x="1348" y="659" width="1" height="8" fill="#c0c0c0"/>
<rect x="1356" y="657" width="1" height="3" fill="#c0c0c0"/>
<rect x="1364" y="648" width="1" height="12" fill="#c0c0c0"/>
<rect x="1372" y="640" width="1" height="20" fill="#c0c0c0"/>
<rect x="1380" y="632" width="1" height="28" fill="#c0c0c0"/>
<rect x="1388" y="615" width="1" height="45" fill="#c0c0c0"/>
<rect x="1396" y="610" width="1" height="50" fill="#c0c0c0"/>
<rect x="1404" y="605" width="1" height="55" fill="#c0c0c0"/>
<rect x="1412" y="602" width="1" height="58" fill="#c0c0c0"/>
<rect x="132" y="659" width="1" height="1" fill="#c0c0c0"/>
</g>
<polyline points="0.0,645.5 9.7,644.2 16.8,642.3 54.3,642.3 57.0,643.0 64.6,643.6 70.0,644.5 78.0,645.5 88.0,645.5 95.0,646.5 106.0,647.2 115.0,648.0 122.8,650.0 129.3,651.3 139.0,651.3 141.0,652.6 147.4,653.5 153.8,654.5 159.0,655.5 165.5,656.5 172.0,656.5 175.8,655.5 188.7,655.5 195.2,654.5 201.7,653.5 232.0,653.5 237.5,654.3 242.7,655.5 257.0,655.5 260.8,656.5 293.0,656.5 297.0,657.1 303.4,657.4 309.2,658.4 315.0,661.0 321.5,663.4 327.3,665.5 333.1,668.8 339.0,671.6 345.4,675.0 351.2,678.5 357.0,682.0 362.9,685.6 368.7,688.8 374.5,691.4 381.6,693.3 387.4,695.3 393.9,696.6 399.7,697.5 405.5,698.5 420.0,699.4 444.0,697.4 459.0,698.0 481.0,700.6 516.0,702.3 526.0,699.8 553.0,689.2 573.0,688.2 592.5,691.2 609.8,696.6 639.4,696.1 659.0,691.2 691.2,685.0 718.4,685.8 735.6,691.2 750.4,702.3 765.3,715.4 782.5,725.2 797.3,730.2 818.5,732.6 837.0,729.4 851.8,724.5 869.1,716.4 886.4,702.3 903.7,681.3 916.0,665.3 933.3,648.0 953.0,632.0 972.8,619.1 992.5,614.2 1017.2,609.2 1037.0,610.2 1054.2,619.1 1071.5,634.4 1096.2,654.2 1118.4,669.5 1145.5,675.1 1165.3,686.7 1185.0,706.0 1202.3,717.1 1214.8,718.3 1229.6,715.9 1249.4,702.3 1269.1,696.1 1283.9,694.9 1306.1,688.7 1340.0,678.0 1353.6,671.9 1365.2,666.8 1377.4,660.2 1389.5,650.9 1401.2,641.1 1411.5,630.3" fill="none" stroke="#ff0000" stroke-width="1" stroke-dasharray="3,3" shape-rendering="crispEdges"/>
<g shape-rendering="crispEdges">
<line x1="3" y1="787.5" x2="1655" y2="787.5" stroke="#c0c0c0" stroke-width="1" stroke-dasharray="3,3"/>
<line x1="3" y1="838.5" x2="1655" y2="838.5" stroke="#c0c0c0" stroke-width="1" stroke-dasharray="3,3"/>
<line x1="3" y1="899.5" x2="1655" y2="899.5" stroke="#c0c0c0" stroke-width="1" stroke-dasharray="3,3"/>
</g>
<polyline points="-3.5,822 4.5,821.9 12.5,835.7 20.5,833.5 28.5,829.3 36.5,824.4 44.5,840.5 52.5,831.4 60.5,839.3 68.5,832.5 76.5,829.3 84.5,823.6 92.5,827.2 100.5,845.2 108.5,847.3 116.5,847.7 124.5,852.6 132.5,839.9 140.5,837.8 148.5,827.8 156.5,829.3 164.5,832.5 172.5,824.4 180.5,825.1 188.5,828.3 196.5,846.2 204.5,842.4 212.5,843.7 220.5,849.4 228.5,840.9 236.5,832.9 244.5,831.4 252.5,830.4 260.5,830.4 268.5,837.8 276.5,836.3 284.5,837.8 292.5,838.4 300.5,873.1 308.5,872.3 316.5,876.5 324.5,869.5 332.5,879.0 340.5,860.2 348.5,870.1 356.5,859.6 364.5,862.1 372.5,865.9 380.5,868.0 388.5,853.2 396.5,848.4 404.5,862.1 412.5,862.1 420.5,851.5 428.5,843.1 436.5,844.8 444.5,860.4 452.5,871.0 460.5,867.4 468.5,858.3 476.5,861.0 484.5,853.6 492.5,849.8 500.5,847.7 508.5,844.1 516.5,839.9 524.5,837.1 532.5,840.9 540.5,847.7 548.5,857.9 556.5,865.3 564.5,869.5 572.5,868.4 580.5,870.1 588.5,872.3 596.5,856.8 604.5,844.1 612.5,842.6 620.5,847.7 628.5,844.1 636.5,847.7 644.5,859.6 652.5,847.3 660.5,850.5 668.5,846.2 676.5,842.6 684.5,851.9 692.5,860.0 700.5,858.9 708.5,861.7 716.5,864.6 724.5,878.0 732.5,883.7 740.5,889.2 748.5,889.2 756.5,889.2 764.5,879.0 772.5,858.9 780.5,848.4 788.5,854.7 796.5,862.1 804.5,871.0 812.5,873.1 820.5,863.2 828.5,855.8 836.5,851.5 844.5,834.6 852.5,839.9 860.5,835.7 868.5,834.2 876.5,827.2 884.5,829.3 892.5,813.0 900.5,815.1 908.5,815.1 916.5,813.9 924.5,824.0 932.5,827.2 940.5,819.8 948.5,818.1 956.5,817.3 964.5,813.0 972.5,810.3 980.5,810.3 988.5,818.1 996.5,814.5 1004.5,820.2 1012.5,821.5 1020.5,819.0 1028.5,832.1 1036.5,834.6 1044.5,860.0 1052.5,865.3 1060.5,854.7 1068.5,850.5 1076.5,847.3 1084.5,851.1 1092.5,847.3 1100.5,854.1 1108.5,846.2 1116.5,841.4 1124.5,833.5 1132.5,842.6 1140.5,867.4 1148.5,874.4 1156.5,870.6 1164.5,878.0 1172.5,878.0 1180.5,855.8 1188.5,849.0 1196.5,837.8 1204.5,835.7 1212.5,834.6 1220.5,844.1 1228.5,844.1 1236.5,844.8 1244.5,854.1 1252.5,853.2 1260.5,852.6 1268.5,851.5 1276.5,854.1 1284.5,839.3 1292.5,825.1 1300.5,833.2 1308.5,834.3 1316.5,837.8 1324.5,848.0 1332.5,850.3 1340.5,845.8 1348.5,827.2 1356.5,823.3 1364.5,820.4 1372.5,820.0 1380.5,814.4 1388.5,804.2 1396.5,818.7 1404.5,817.4 1412.5,817.4" fill="none" stroke="#1e90ff" stroke-width="1" shape-rendering="crispEdges"/>
<rect x="1364" y="280" width="114" height="6" fill="#00ff00"/>
<line x1="1333.5" y1="481" x2="1397.039573312814" y2="230.6925899798239" stroke="#ff0000" stroke-width="3.6"/>
<polygon points="1399.5,221 1401.8858683027258,231.92280332341693 1392.193278322902,229.46237663623089" fill="#ff0000"/>
<line x1="1249.5" y1="721" x2="1407.9315914677327" y2="612.2260715296164" stroke="#ff0000" stroke-width="3.0"/>
<polygon points="1417,606 1410.7616239811946,616.3480754079197 1405.1015589542708,608.1040676513131" fill="#ff0000"/>
<line x1="1324.5" y1="836.5" x2="1411.5702367659221" y2="808.6552034707964" stroke="#ff0000" stroke-width="3.2"/>
<polygon points="1423,805 1413.0932382120873,813.4176048183289 1410.047235319757,803.892802123264" fill="#ff0000"/>
<g font-family='"Liberation Sans", sans-serif'>
<rect x="925.5" y="184.5" width="61" height="18" fill="#fff" stroke="#ff0000" stroke-width="1" shape-rendering="crispEdges"/>
<text x="956.0" y="199.5" font-size="16.5" fill="#ff0000" stroke="#ff0000" stroke-width="0.25" text-anchor="middle" textLength="58" lengthAdjust="spacingAndGlyphs">34933.4</text>
<rect x="987" y="193" width="10" height="1" fill="#ff0000"/>
<rect x="1317.5" y="204.5" width="61" height="18" fill="#fff" stroke="#ff0000" stroke-width="1" shape-rendering="crispEdges"/>
<text x="1348.0" y="219.5" font-size="16.5" fill="#ff0000" stroke="#ff0000" stroke-width="0.25" text-anchor="middle" textLength="58" lengthAdjust="spacingAndGlyphs">34852.7</text>
<rect x="1379.5" y="210.5" width="3" height="4" fill="#fff" stroke="#ff0000" stroke-width="1"/>
<rect x="1383" y="212" width="6" height="1" fill="#ff0000"/>
<rect x="685.5" y="547.5" width="61" height="18" fill="#fff" stroke="#ff0000" stroke-width="1" shape-rendering="crispEdges"/>
<text x="716.0" y="562.5" font-size="16.5" fill="#ff0000" stroke="#ff0000" stroke-width="0.25" text-anchor="middle" textLength="58" lengthAdjust="spacingAndGlyphs">33475.1</text>
<rect x="747" y="556" width="9" height="1" fill="#ff0000"/>
<rect x="1101.5" y="569.5" width="61" height="18" fill="#fff" stroke="#ff0000" stroke-width="1" shape-rendering="crispEdges"/>
<text x="1132.0" y="584.5" font-size="16.5" fill="#ff0000" stroke="#ff0000" stroke-width="0.25" text-anchor="middle" textLength="58" lengthAdjust="spacingAndGlyphs">33388.2</text>
<rect x="1163" y="578" width="10" height="1" fill="#ff0000"/>
<rect x="1269.5" y="487.5" width="61" height="17" fill="#fff" stroke="#ff0000" stroke-width="1" shape-rendering="crispEdges"/>
<text x="1300.0" y="501.5" font-size="16.5" fill="#ff0000" stroke="#ff0000" stroke-width="0.25" text-anchor="middle" textLength="58" lengthAdjust="spacingAndGlyphs">33717.2</text>
<rect x="1331.5" y="494.5" width="2" height="3" fill="#fff" stroke="#ff0000" stroke-width="1"/>
<rect x="1334" y="496" width="6" height="1" fill="#ff0000"/>
<rect x="1223.5" y="271.5" width="73" height="24" fill="#fff" stroke="#ff0000" stroke-width="1" shape-rendering="crispEdges"/>
<text x="1260.0" y="291.8" font-size="23" fill="#ff0000" stroke="#ff0000" stroke-width="0.5" text-anchor="middle" textLength="70" lengthAdjust="spacingAndGlyphs">34571.8</text>
<rect x="1213" y="283" width="7" height="1" fill="#ff0000"/>
<rect x="1220.5" y="281.5" width="2" height="3" fill="#fff" stroke="#ff0000" stroke-width="1"/>
</g>
<g font-family='"Liberation Sans", sans-serif' font-size="10" shape-rendering="crispEdges">
<rect x="1656" y="27" width="3" height="1" fill="#000"/>
<text x="1661" y="31.5" fill="#000" textLength="33.1" lengthAdjust="spacingAndGlyphs">35600.0</text>
<rect x="1656" y="60" width="3" height="1" fill="#000"/>
<text x="1661" y="64.5" fill="#000" textLength="33.1" lengthAdjust="spacingAndGlyphs">35468.0</text>
<rect x="1656" y="93" width="3" height="1" fill="#000"/>
<text x="1661" y="97.5" fill="#000" textLength="33.1" lengthAdjust="spacingAndGlyphs">35336.0</text>
<rect x="1656" y="126" width="3" height="1" fill="#000"/>
<text x="1661" y="130.5" fill="#000" textLength="33.1" lengthAdjust="spacingAndGlyphs">35204.0</text>
<rect x="1656" y="159" width="3" height="1" fill="#000"/>
<text x="1661" y="163.5" fill="#000" textLength="33.1" lengthAdjust="spacingAndGlyphs">35072.0</text>
<rect x="1656" y="192" width="3" height="1" fill="#000"/>
<text x="1661" y="196.5" fill="#000" textLength="33.1" lengthAdjust="spacingAndGlyphs">34936.0</text>
<rect x="1656" y="225" width="3" height="1" fill="#000"/>
<text x="1661" y="229.5" fill="#000" textLength="33.1" lengthAdjust="spacingAndGlyphs">34804.0</text>
<rect x="1656" y="258" width="3" height="1" fill="#000"/>
<text x="1661" y="262.5" fill="#000" textLength="33.1" lengthAdjust="spacingAndGlyphs">34672.0</text>
<rect x="1656" y="291" width="3" height="1" fill="#000"/>
<text x="1661" y="295.5" fill="#000" textLength="33.1" lengthAdjust="spacingAndGlyphs">34540.0</text>
<rect x="1656" y="324" width="3" height="1" fill="#000"/>
<text x="1661" y="328.5" fill="#000" textLength="33.1" lengthAdjust="spacingAndGlyphs">34408.0</text>
<rect x="1656" y="357" width="3" height="1" fill="#000"/>
<text x="1661" y="361.5" fill="#000" textLength="33.1" lengthAdjust="spacingAndGlyphs">34276.0</text>
<rect x="1656" y="390" width="3" height="1" fill="#000"/>
<text x="1661" y="394.5" fill="#000" textLength="33.1" lengthAdjust="spacingAndGlyphs">34140.0</text>
<rect x="1656" y="423" width="3" height="1" fill="#000"/>
<text x="1661" y="427.5" fill="#000" textLength="33.1" lengthAdjust="spacingAndGlyphs">34008.0</text>
<rect x="1656" y="456" width="3" height="1" fill="#000"/>
<text x="1661" y="460.5" fill="#000" textLength="33.1" lengthAdjust="spacingAndGlyphs">33876.0</text>
<rect x="1656" y="489" width="3" height="1" fill="#000"/>
<text x="1661" y="493.5" fill="#000" textLength="33.1" lengthAdjust="spacingAndGlyphs">33744.0</text>
<rect x="1656" y="522" width="3" height="1" fill="#000"/>
<text x="1661" y="526.5" fill="#000" textLength="33.1" lengthAdjust="spacingAndGlyphs">33612.0</text>
<rect x="1656" y="555" width="3" height="1" fill="#000"/>
<text x="1661" y="559.5" fill="#000" textLength="33.1" lengthAdjust="spacingAndGlyphs">33480.0</text>
<rect x="1656" y="588" width="3" height="1" fill="#000"/>
<text x="1661" y="592.5" fill="#000" textLength="33.1" lengthAdjust="spacingAndGlyphs">33348.0</text>
<text x="1659" y="604.5" fill="#000" textLength="28.0" lengthAdjust="spacingAndGlyphs">173.98</text>
<rect x="1656" y="659" width="3" height="1" fill="#000"/>
<text x="1659" y="663.5" fill="#000" textLength="17.8" lengthAdjust="spacingAndGlyphs">0.00</text>
<rect x="1656" y="743" width="3" height="1" fill="#000"/>
<text x="1659" y="747.5" fill="#000" textLength="31.1" lengthAdjust="spacingAndGlyphs">-243.61</text>
<text x="1659" y="762.5" fill="#000" textLength="15.3" lengthAdjust="spacingAndGlyphs">100</text>
<text x="1658" y="791.5" fill="#000" textLength="10.2" lengthAdjust="spacingAndGlyphs">80</text>
<text x="1658" y="842.5" fill="#000" textLength="10.2" lengthAdjust="spacingAndGlyphs">50</text>
<text x="1658" y="903.5" fill="#000" textLength="10.2" lengthAdjust="spacingAndGlyphs">15</text>
<text x="1659" y="922.5" fill="#000" textLength="5.1" lengthAdjust="spacingAndGlyphs">0</text>
<rect x="1656" y="753" width="2" height="1" fill="#000"/>
<rect x="1657" y="206" width="41" height="11" fill="#ff0000"/>
<text x="1661" y="215" fill="#fff" textLength="33.1" lengthAdjust="spacingAndGlyphs">34856.7</text>
<rect x="1657" y="226" width="41" height="11" fill="#ff0000"/>
<text x="1661" y="235" fill="#fff" textLength="33.1" lengthAdjust="spacingAndGlyphs">34776.4</text>
<rect x="1657" y="255" width="41" height="11" fill="#000000"/>
<text x="1661" y="264" fill="#fff" textLength="33.1" lengthAdjust="spacingAndGlyphs">34663.0</text>
<rect x="1657" y="277" width="41" height="11" fill="#33cc33"/>
<text x="1661" y="286" fill="#fff" textLength="33.1" lengthAdjust="spacingAndGlyphs">34571.8</text>
<rect x="1657" y="296" width="41" height="11" fill="#0000ff"/>
<text x="1661" y="305" fill="#fff" textLength="33.1" lengthAdjust="spacingAndGlyphs">34495.6</text>
<rect x="1657" y="321" width="41" height="11" fill="#0000ff"/>
<text x="1661" y="330" fill="#fff" textLength="33.1" lengthAdjust="spacingAndGlyphs">34395.3</text>
</g>
<g font-family='"Liberation Sans", sans-serif' font-size="9.5" shape-rendering="crispEdges">
<text x="-4.5" y="938" fill="#000">30 Aug 2021</text>
<rect x="60" y="926" width="1" height="4" fill="#000"/>
<text x="59.5" y="938" fill="#000">31 Aug 16:00</text>
<rect x="124" y="926" width="1" height="4" fill="#000"/>
<text x="123.5" y="938" fill="#000">2 Sep 00:00</text>
<rect x="188" y="926" width="1" height="4" fill="#000"/>
<text x="187.5" y="938" fill="#000">3 Sep 08:00</text>
<rect x="252" y="926" width="1" height="4" fill="#000"/>
<text x="251.5" y="938" fill="#000">6 Sep 12:00</text>
<rect x="316" y="926" width="1" height="4" fill="#000"/>
<text x="315.5" y="938" fill="#000">7 Sep 20:00</text>
<rect x="380" y="926" width="1" height="4" fill="#000"/>
<text x="379.5" y="938" fill="#000">9 Sep 04:00</text>
<rect x="444" y="926" width="1" height="4" fill="#000"/>
<text x="443.5" y="938" fill="#000">10 Sep 12:00</text>
<rect x="508" y="926" width="1" height="4" fill="#000"/>
<text x="507.5" y="938" fill="#000">13 Sep 16:00</text>
<rect x="572" y="926" width="1" height="4" fill="#000"/>
<text x="571.5" y="938" fill="#000">15 Sep 00:00</text>
<rect x="636" y="926" width="1" height="4" fill="#000"/>
<text x="635.5" y="938" fill="#000">16 Sep 08:00</text>
<rect x="700" y="926" width="1" height="4" fill="#000"/>
<text x="699.5" y="938" fill="#000">17 Sep 16:00</text>
<rect x="764" y="926" width="1" height="4" fill="#000"/>
<text x="763.5" y="938" fill="#000">20 Sep 20:00</text>
<rect x="828" y="926" width="1" height="4" fill="#000"/>
<text x="827.5" y="938" fill="#000">22 Sep 04:00</text>
<rect x="892" y="926" width="1" height="4" fill="#000"/>
<text x="891.5" y="938" fill="#000">23 Sep 12:00</text>
<rect x="956" y="926" width="1" height="4" fill="#000"/>
<text x="955.5" y="938" fill="#000">24 Sep 20:00</text>
<rect x="1020" y="926" width="1" height="4" fill="#000"/>
<text x="1019.5" y="938" fill="#000">28 Sep 00:00</text>
<rect x="1084" y="926" width="1" height="4" fill="#000"/>
<text x="1083.5" y="938" fill="#000">29 Sep 08:00</text>
<rect x="1148" y="926" width="1" height="4" fill="#000"/>
<text x="1147.5" y="938" fill="#000">30 Sep 16:00</text>
<rect x="1212" y="926" width="1" height="4" fill="#000"/>
<text x="1211.5" y="938" fill="#000">3 Oct 23:00</text>
<rect x="1276" y="926" width="1" height="4" fill="#000"/>
<text x="1275.5" y="938" fill="#000">5 Oct 04:00</text>
<rect x="1340" y="926" width="1" height="4" fill="#000"/>
<text x="1339.5" y="938" fill="#000">6 Oct 12:00</text>
<rect x="1404" y="926" width="1" height="4" fill="#000"/>
<text x="1403.5" y="938" fill="#000">7 Oct 20:00</text>
</g>
<g font-family='"Liberation Sans", sans-serif' font-size="10" fill="#000">
<polygon points="0,35 2.8,31 6,35" fill="#000"/>
<text x="11" y="36" textLength="186" lengthAdjust="spacingAndGlyphs" xml:space="preserve">DJ30-,H4  34663.0 34664.0 34658.0 34663.0</text>
<text x="1" y="606" textLength="122" lengthAdjust="spacingAndGlyphs">MACD(12,26,9) 155.00 79.18</text>
<text x="1" y="764" textLength="67" lengthAdjust="spacingAndGlyphs">RSI(14) 62.7644</text>
</g>
<polygon points="1417,25 1426,25 1421.5,30" fill="#bcbcbc"/>
<defs>
<linearGradient id="gbtn" x1="0" y1="0" x2="0" y2="1"><stop offset="0" stop-color="#f65a5a"/><stop offset="1" stop-color="#dc2a2a"/></linearGradient>
<linearGradient id="glow" x1="0" y1="0" x2="0" y2="1"><stop offset="0" stop-color="#d83030"/><stop offset="1" stop-color="#a80000"/></linearGradient>
<linearGradient id="gspin" x1="0" y1="0" x2="0" y2="1"><stop offset="0" stop-color="#f2f2f2"/><stop offset="1" stop-color="#d0d0d0"/></linearGradient>
</defs>
<g shape-rendering="crispEdges">
<rect x="0" y="44" width="218" height="57" fill="#b00000"/>
<rect x="51" y="44" width="115" height="24" fill="#fff"/>
<rect x="0" y="45" width="50" height="23" fill="url(#gbtn)"/>
<rect x="167" y="45" width="50" height="23" fill="url(#gbtn)"/>
<rect x="0" y="69" width="107" height="31" fill="url(#glow)"/>
<rect x="110" y="69" width="107" height="31" fill="url(#glow)"/>
<rect x="108" y="68" width="2" height="33" fill="#fff"/>
<rect x="3" y="67" width="45" height="1" fill="#7a0000"/>
<rect x="3" y="68" width="45" height="1" fill="#f08080"/>
<rect x="170" y="67" width="45" height="1" fill="#7a0000"/>
<rect x="170" y="68" width="45" height="1" fill="#f08080"/>
<rect x="53.5" y="44.5" width="110" height="21" fill="#fff" stroke="#a8acb4" stroke-width="1"/>
<rect x="54" y="46" width="20" height="19" fill="url(#gspin)"/>
<rect x="74" y="45" width="1" height="20" fill="#a8acb4"/>
<rect x="143" y="46" width="20" height="19" fill="url(#gspin)"/>
<rect x="142" y="45" width="1" height="20" fill="#a8acb4"/>
</g>
<polygon points="61,53 66,53 63.5,56" fill="#5a6acc"/>
<polygon points="150,56 155,56 152.5,53" fill="#5a6acc"/>
<g font-family='"Liberation Sans", sans-serif'>
<text x="11" y="60" font-size="12.5" fill="#fff" textLength="26.5" lengthAdjust="spacingAndGlyphs">SELL</text>
<text x="178" y="60" font-size="12.5" fill="#fff">BUY</text>
<text x="138.5" y="59" font-size="12.5" fill="#000" text-anchor="end">1.00</text>
<text x="15" y="96" font-size="12.5" font-weight="bold" fill="#fff">34661</text>
<rect x="55" y="92" width="4" height="4" rx="1.2" fill="#fff"/>
<text x="62.5" y="95.8" font-size="33.5" fill="#fff" stroke="#c01818" stroke-width="0.6" textLength="15" lengthAdjust="spacingAndGlyphs">5</text>
<text x="125" y="96" font-size="12.5" font-weight="bold" fill="#fff">34671</text>
<rect x="165" y="92" width="4" height="4" rx="1.2" fill="#fff"/>
<text x="172.5" y="95.8" font-size="33.5" fill="#fff" stroke="#c01818" stroke-width="0.6" textLength="15" lengthAdjust="spacingAndGlyphs">5</text>
</g>
<rect x="0" y="0" width="4" height="4" fill="#909090" opacity="0.6"/><circle cx="0.8" cy="9" r="4.4" fill="#dbeefa" stroke="#6aa0d8" stroke-width="1.2"/><line x1="4" y1="12.6" x2="8" y2="16.6" stroke="#c89a28" stroke-width="2.2"/><rect x="16" y="1" width="1" height="17" fill="#a0a0a0" shape-rendering="crispEdges"/><rect x="17" y="1" width="1" height="17" fill="#fff" shape-rendering="crispEdges"/><path d="M21.5 14L23 15.5L21.5 17L20 15.5Z" fill="none" stroke="#000" stroke-width="0.8"/><path d="M26.5 0.5H34.5L37.5 3.5V13.5H26.5Z" fill="#fff" stroke="#707070" stroke-width="1"/><path d="M28 2.8H31M28.5 6.5H33.5M28.5 8.5H32.5M28.5 10.5H31" stroke="#909090" stroke-width="1.2"/><path d="M34 6.5H38V10.5H42V14H38V17.5H34V14H30V10.5H34Z" fill="#22dd22" stroke="#119911" stroke-width="1"/><path d="M3 0.5V2" transform="translate(45.0,0.5) scale(1.0)" fill="none" stroke="#000" stroke-width="1.15"/><path d="M0.5 2.5H6" transform="translate(45.0,0.5) scale(1.0)" fill="none" stroke="#000" stroke-width="1.15"/><path d="M1.5 3.5L2.2 4.6" transform="translate(45.0,0.5) scale(1.0)" fill="none" stroke="#000" stroke-width="1.15"/><path d="M4.6 3.5L3.9 4.6" transform="translate(45.0,0.5) scale(1.0)" fill="none" stroke="#000" stroke-width="1.15"/><path d="M0.3 5.2H6.2" transform="translate(45.0,0.5) scale(1.0)" fill="none" stroke="#000" stroke-width="1.15"/><path d="M0.8 7.5H5.8" transform="translate(45.0,0.5) scale(1.0)" fill="none" stroke="#000" stroke-width="1.15"/><path d="M3.2 5.2V11.8" transform="translate(45.0,0.5) scale(1.0)" fill="none" stroke="#000" stroke-width="1.15"/><path d="M3.2 8.2L0.5 11" transform="translate(45.0,0.5) scale(1.0)" fill="none" stroke="#000" stroke-width="1.15"/><path d="M3.2 8.2L5.8 10.2" transform="translate(45.0,0.5) scale(1.0)" fill="none" stroke="#000" stroke-width="1.15"/><path d="M11.5 0.6L7.6 1.8V7.5Q7.6 10 6.6 11.8" transform="translate(45.0,0.5) scale(1.0)" fill="none" stroke="#000" stroke-width="1.15"/><path d="M7.6 5H12" transform="translate(45.0,0.5) scale(1.0)" fill="none" stroke="#000" stroke-width="1.15"/><path d="M10 5V11.8" transform="translate(45.0,0.5) scale(1.0)" fill="none" stroke="#000" stroke-width="1.15"/><path d="M0.8 0.8L2 2" transform="translate(57.1,0.5) scale(1.0)" fill="none" stroke="#000" stroke-width="1.15"/><path d="M0.3 4.5H2V10.5L3.6 9" transform="translate(57.1,0.5) scale(1.0)" fill="none" stroke="#000" stroke-width="1.15"/><path d="M4 2.2H11.8" transform="translate(57.1,0.5) scale(1.0)" fill="none" stroke="#000" stroke-width="1.15"/><path d="M8.3 2.2V11.2Q8.3 11.8 6.8 11.5" transform="translate(57.1,0.5) scale(1.0)" fill="none" stroke="#000" stroke-width="1.15"/><path d="M3 0.3L4 1.8" transform="translate(69.2,0.5) scale(1.0)" fill="none" stroke="#000" stroke-width="1.15"/><path d="M9 0.3L8 1.8" transform="translate(69.2,0.5) scale(1.0)" fill="none" stroke="#000" stroke-width="1.15"/><path d="M2 2.6H10V8H2Z" transform="translate(69.2,0.5) scale(1.0)" fill="none" stroke="#000" stroke-width="1.15"/><path d="M2 5.3H10" transform="translate(69.2,0.5) scale(1.0)" fill="none" stroke="#000" stroke-width="1.15"/><path d="M6 2.6V11.9" transform="translate(69.2,0.5) scale(1.0)" fill="none" stroke="#000" stroke-width="1.15"/><path d="M0.3 9.6H11.7" transform="translate(69.2,0.5) scale(1.0)" fill="none" stroke="#000" stroke-width="1.15"/><defs><linearGradient id="gbook" x1="0" y1="0" x2="1" y2="1"><stop offset="0" stop-color="#f8e070"/><stop offset="1" stop-color="#c89018"/></linearGradient></defs><polygon points="93.2,9.7 99.3,1.3 107.4,7.1 108.7,10.3 101.6,15.5" fill="url(#gbook)" stroke="#9a6010" stroke-width="1"/><path d="M94.5 11L101.5 14.5L107.8 10" stroke="#fff0b0" stroke-width="0.9" fill="none"/><rect x="123" y="0" width="10" height="10" fill="#2a8ef0" stroke="#1060c0" stroke-width="1"/><rect x="127" y="4" width="5" height="2" fill="#d8ecff"/><path d="M122.5 15.5Q119.5 13.5 122.5 11.5Q123 8.5 126.5 9Q129 6.5 132 8.5Q134.5 8.5 134.8 11Q138 11.5 136.5 15.5Z" fill="#e6e9f2" stroke="#5a6a9a" stroke-width="1"/><circle cx="157" cy="8" r="7.5" fill="none" stroke="#a8c8e8" stroke-width="1"/><circle cx="157" cy="8" r="5" fill="none" stroke="#7a9ee0" stroke-width="1"/><path d="M157 15.5A7.5 7.5 0 0 0 164.5 8" fill="none" stroke="#80c080" stroke-width="1.2"/><circle cx="157" cy="8" r="1.6" fill="#2a5cd0"/><path d="M157.5 8V15.5" stroke="#20a020" stroke-width="1.4"/><ellipse cx="184" cy="3.5" rx="8" ry="3" fill="#5ab0e8" stroke="#3a80c0" stroke-width="0.8"/><ellipse cx="184" cy="1.8" rx="3" ry="2" fill="#7ac8f8"/><polygon points="177,6.5 191,6.5 187,15 182,15" fill="#f0d040" stroke="#c0a020" stroke-width="0.8"/><circle cx="188.7" cy="11.6" r="4.2" fill="#dd2a10"/><rect x="187.4" y="10.3" width="2.6" height="2.6" fill="#fff"/><path d="M5.5 0.2L4.5 1.8" transform="translate(197.3,0.5) scale(0.95)" fill="none" stroke="#000" stroke-width="1.15"/><path d="M2 2.2H10V11.8H2Z" transform="translate(197.3,0.5) scale(0.95)" fill="none" stroke="#000" stroke-width="1.15"/><path d="M2 5.4H10" transform="translate(197.3,0.5) scale(0.95)" fill="none" stroke="#000" stroke-width="1.15"/><path d="M2 8.6H10" transform="translate(197.3,0.5) scale(0.95)" fill="none" stroke="#000" stroke-width="1.15"/><path d="M0.5 2H5.2" transform="translate(209.0,0.5) scale(0.95)" fill="none" stroke="#000" stroke-width="1.15"/><path d="M0 5H6" transform="translate(209.0,0.5) scale(0.95)" fill="none" stroke="#000" stroke-width="1.15"/><path d="M3 5L1 10.2L5.6 9.4" transform="translate(209.0,0.5) scale(0.95)" fill="none" stroke="#000" stroke-width="1.15"/><path d="M4.4 7.8L5.6 10.3" transform="translate(209.0,0.5) scale(0.95)" fill="none" stroke="#000" stroke-width="1.15"/><path d="M6.6 4H11.5Q11.5 10.5 10.8 11.5L9.5 11" transform="translate(209.0,0.5) scale(0.95)" fill="none" stroke="#000" stroke-width="1.15"/><path d="M9.2 0.6V4Q9 9.5 6.6 11.8" transform="translate(209.0,0.5) scale(0.95)" fill="none" stroke="#000" stroke-width="1.15"/><path d="M6 0V2" transform="translate(220.70000000000002,0.5) scale(0.95)" fill="none" stroke="#000" stroke-width="1.15"/><path d="M0.3 2.6H11.7" transform="translate(220.70000000000002,0.5) scale(0.95)" fill="none" stroke="#000" stroke-width="1.15"/><path d="M4 4L2 6" transform="translate(220.70000000000002,0.5) scale(0.95)" fill="none" stroke="#000" stroke-width="1.15"/><path d="M8 4L10 6" transform="translate(220.70000000000002,0.5) scale(0.95)" fill="none" stroke="#000" stroke-width="1.15"/><path d="M3.5 6.2L11 11.8" transform="translate(220.70000000000002,0.5) scale(0.95)" fill="none" stroke="#000" stroke-width="1.15"/><path d="M8.5 6.2Q6 10 0.8 11.8" transform="translate(220.70000000000002,0.5) scale(0.95)" fill="none" stroke="#000" stroke-width="1.15"/><path d="M3 0.5H9V5.2H3Z" transform="translate(232.4,0.5) scale(0.95)" fill="none" stroke="#000" stroke-width="1.15"/><path d="M3 2.85H9" transform="translate(232.4,0.5) scale(0.95)" fill="none" stroke="#000" stroke-width="1.15"/><path d="M3.8 6L1.2 8.6" transform="translate(232.4,0.5) scale(0.95)" fill="none" stroke="#000" stroke-width="1.15"/><path d="M2.6 7.3H11Q11 11 10.2 11.8L9 11.4" transform="translate(232.4,0.5) scale(0.95)" fill="none" stroke="#000" stroke-width="1.15"/><path d="M5.6 7.3L2.8 11.6" transform="translate(232.4,0.5) scale(0.95)" fill="none" stroke="#000" stroke-width="1.15"/><path d="M8.3 7.3L5.4 11.6" transform="translate(232.4,0.5) scale(0.95)" fill="none" stroke="#000" stroke-width="1.15"/><rect x="252" y="1" width="1" height="17" fill="#a0a0a0" shape-rendering="crispEdges"/><rect x="253" y="1" width="1" height="17" fill="#fff" shape-rendering="crispEdges"/><rect x="256" y="1" width="3" height="1" fill="#b0b0b0" shape-rendering="crispEdges"/><rect x="256" y="3" width="3" height="1" fill="#b0b0b0" shape-rendering="crispEdges"/><rect x="256" y="5" width="3" height="1" fill="#b0b0b0" shape-rendering="crispEdges"/><rect x="256" y="7" width="3" height="1" fill="#b0b0b0" shape-rendering="crispEdges"/><rect x="256" y="9" width="3" height="1" fill="#b0b0b0" shape-rendering="crispEdges"/><rect x="256" y="11" width="3" height="1" fill="#b0b0b0" shape-rendering="crispEdges"/><rect x="256" y="13" width="3" height="1" fill="#b0b0b0" shape-rendering="crispEdges"/><rect x="256" y="15" width="3" height="1" fill="#b0b0b0" shape-rendering="crispEdges"/><rect x="256" y="17" width="3" height="1" fill="#b0b0b0" shape-rendering="crispEdges"/><path d="M270.5 2V14.5 M268 13.5H282" stroke="#505050" stroke-width="1.2" fill="none"/><polygon points="268.5,4 270.5,1.5 272.5,4" fill="#505050"/><polygon points="281,11.5 283.5,13.5 281,15.5" fill="#505050"/><path d="M276.5 3.5V11 M276.5 4H279 M276.5 10.5H274" stroke="#1a9a1a" stroke-width="1.2" fill="none"/><rect x="290" y="0" width="25" height="18" fill="#f7f7f7" stroke="#e2e2e2" stroke-width="0.5"/><rect x="289" y="1" width="1" height="17" fill="#a0a0a0" shape-rendering="crispEdges"/><rect x="290" y="1" width="1" height="17" fill="#fff" shape-rendering="crispEdges"/><path d="M298.5 2V14.5 M296 13.5H310" stroke="#505050" stroke-width="1.2" fill="none"/><polygon points="296.5,4 298.5,1.5 300.5,4" fill="#505050"/><polygon points="309,11.5 311.5,13.5 309,15.5" fill="#505050"/><path d="M304.5 0V11.5" stroke="#0a7a0a" stroke-width="1"/><rect x="302.5" y="2.5" width="4" height="7" fill="#22cc22" stroke="#0a7a0a" stroke-width="1"/><path d="M326.5 2V14.5 M324 13.5H338" stroke="#505050" stroke-width="1.2" fill="none"/><polygon points="324.5,4 326.5,1.5 328.5,4" fill="#505050"/><polygon points="337,11.5 339.5,13.5 337,15.5" fill="#505050"/><path d="M325 10.5Q330 3 331 4.8Q334 4.5 337 9" stroke="#1a9a1a" stroke-width="1.2" fill="none"/><rect x="347" y="1" width="1" height="17" fill="#a0a0a0" shape-rendering="crispEdges"/><rect x="348" y="1" width="1" height="17" fill="#fff" shape-rendering="crispEdges"/><line x1="365.5" y1="9.5" x2="371" y2="14.5" stroke="#c8a020" stroke-width="2.5"/><circle cx="362" cy="5.8" r="5" fill="#cfe6f8" stroke="#3a78c8" stroke-width="1.3"/><path d="M359.2 5.8H364.8M362 3V8.6" stroke="#3a6ab0" stroke-width="1.6"/><line x1="393.5" y1="9.5" x2="399" y2="14.5" stroke="#c8a020" stroke-width="2.5"/><circle cx="390" cy="5.8" r="5" fill="#cfe6f8" stroke="#3a78c8" stroke-width="1.3"/><path d="M387.2 5.8H392.8" stroke="#3a6ab0" stroke-width="1.6"/><rect x="412" y="0" width="8" height="7.5" fill="#30a030"/><rect x="413.5" y="3" width="5" height="2.5" fill="#fff" opacity="0.9"/><rect x="420" y="0" width="8" height="7.5" fill="#2a5cd0"/><rect x="421.5" y="3" width="5" height="2.5" fill="#fff" opacity="0.9"/><rect x="412" y="8" width="8" height="7.5" fill="#2a5cd0"/><rect x="413.5" y="11" width="5" height="2.5" fill="#fff" opacity="0.9"/><rect x="420" y="8" width="8" height="7.5" fill="#30a030"/><rect x="421.5" y="11" width="5" height="2.5" fill="#fff" opacity="0.9"/><rect x="437" y="1" width="1" height="17" fill="#a0a0a0" shape-rendering="crispEdges"/><rect x="438" y="1" width="1" height="17" fill="#fff" shape-rendering="crispEdges"/><rect x="442" y="1" width="1" height="17" fill="#a0a0a0" shape-rendering="crispEdges"/><rect x="443" y="1" width="1" height="17" fill="#fff" shape-rendering="crispEdges"/><rect x="443" y="0" width="24" height="18" fill="#f5f5f5"/><path d="M448.5 2V14.5 M446 13.5H460" stroke="#505050" stroke-width="1.2" fill="none"/><polygon points="446.5,4 448.5,1.5 450.5,4" fill="#505050"/><polygon points="459,11.5 461.5,13.5 459,15.5" fill="#505050"/><polygon points="453,3 453,9 457.5,6" fill="#20b020"/><rect x="470" y="1" width="1" height="17" fill="#a0a0a0" shape-rendering="crispEdges"/><rect x="471" y="1" width="1" height="17" fill="#fff" shape-rendering="crispEdges"/><rect x="471" y="0" width="24" height="18" fill="#f5f5f5"/><path d="M476.5 2V14.5 M474 13.5H488" stroke="#505050" stroke-width="1.2" fill="none"/><polygon points="474.5,4 476.5,1.5 478.5,4" fill="#505050"/><polygon points="487,11.5 489.5,13.5 487,15.5" fill="#505050"/><path d="M483.5 1V11" stroke="#2060c0" stroke-width="1.2"/><polygon points="485,6.5 489.5,4 489.5,9" fill="#e05010"/><rect x="499" y="1" width="1" height="17" fill="#a0a0a0" shape-rendering="crispEdges"/><rect x="500" y="1" width="1" height="17" fill="#fff" shape-rendering="crispEdges"/><path d="M509.5 1.5H515.5L517.5 3.5V13.5H509.5Z" fill="#fff" stroke="#707070" stroke-width="1"/><path d="M512 4.5V10" stroke="#707070" stroke-width="1"/><path d="M516 7H520V11H524.5V14.5H520V18H516V14.5H512V11H516Z" fill="#22dd22" stroke="#119911" stroke-width="1"/><polygon points="531,7 537,7 534,10" fill="#000"/><rect x="553.5" y="0" width="3" height="1.5" fill="#3a7ad0"/><circle cx="555" cy="8" r="7.8" fill="#1a64cc"/><circle cx="555" cy="8.2" r="5.2" fill="#eef4fc"/><path d="M554.5 4.5V8.5H557.5" stroke="#303030" stroke-width="1.2" fill="none"/><polygon points="569,7 575,7 572,10" fill="#000"/><rect x="586.5" y="1.5" width="15" height="13" fill="#fff" stroke="#2a6ad0" stroke-width="1.2"/><rect x="587" y="2" width="14" height="2" fill="#4a8ae0"/><path d="M588 7.5L591 6.5L594 7L597 5.5L600 6" stroke="#b03020" stroke-width="1" fill="none"/><path d="M588 12L591 10.5L594 12L597 10L600 11" stroke="#20a020" stroke-width="1" fill="none"/><polygon points="609,7 615,7 612,10" fill="#000"/><rect x="620" y="1" width="1" height="17" fill="#a0a0a0" shape-rendering="crispEdges"/><rect x="621" y="1" width="1" height="17" fill="#fff" shape-rendering="crispEdges"/><rect x="624" y="1" width="3" height="1" fill="#b0b0b0" shape-rendering="crispEdges"/><rect x="624" y="3" width="3" height="1" fill="#b0b0b0" shape-rendering="crispEdges"/><rect x="624" y="5" width="3" height="1" fill="#b0b0b0" shape-rendering="crispEdges"/><rect x="624" y="7" width="3" height="1" fill="#b0b0b0" shape-rendering="crispEdges"/><rect x="624" y="9" width="3" height="1" fill="#b0b0b0" shape-rendering="crispEdges"/><rect x="624" y="11" width="3" height="1" fill="#b0b0b0" shape-rendering="crispEdges"/><rect x="624" y="13" width="3" height="1" fill="#b0b0b0" shape-rendering="crispEdges"/><rect x="624" y="15" width="3" height="1" fill="#b0b0b0" shape-rendering="crispEdges"/><rect x="624" y="17" width="3" height="1" fill="#b0b0b0" shape-rendering="crispEdges"/><rect x="630" y="1" width="1" height="17" fill="#a0a0a0" shape-rendering="crispEdges"/><rect x="631" y="1" width="1" height="17" fill="#fff" shape-rendering="crispEdges"/><rect x="632" y="0" width="23" height="18" fill="#f7f7f7"/><polygon points="638,1.5 638,12.5 640.5,10.5 642.5,15 644.5,14 642.5,9.8 646,9.5" fill="#404040"/><path d="M662.5 8.5H678 M670.5 1V16" stroke="#404040" stroke-width="1" shape-rendering="crispEdges"/><rect x="670" y="8" width="1" height="1" fill="#f0f0f0"/><rect x="687" y="1" width="1" height="17" fill="#a0a0a0" shape-rendering="crispEdges"/><rect x="688" y="1" width="1" height="17" fill="#fff" shape-rendering="crispEdges"/><rect x="704" y="2" width="1.4" height="13" fill="#404040"/><rect x="727" y="8" width="12" height="1.4" fill="#404040"/><line x1="755" y1="15" x2="767" y2="3" stroke="#404040" stroke-width="1.2"/><path d="M781 10L793 1 M782 14L794 5" stroke="#404040" stroke-width="1.1" fill="none"/><path d="M784 12L787 4M787 10L790 3M790 8L793 1" stroke="#404040" stroke-width="0.8"/><text x="791" y="16.5" font-family='"Liberation Sans", sans-serif' font-size="6.5" font-weight="bold" fill="#404040">E</text><path d="M809 1.5H823" stroke="#404040" stroke-width="0.9" stroke-dasharray="1,1"/><path d="M809 4.5H823" stroke="#404040" stroke-width="0.9" stroke-dasharray="1,1"/><path d="M809 8.5H823" stroke="#404040" stroke-width="0.9" stroke-dasharray="1,1"/><path d="M809 12.5H823" stroke="#404040" stroke-width="0.9" stroke-dasharray="1,1"/><text x="818" y="17" font-family='"Liberation Sans", sans-serif' font-size="6.5" font-weight="bold" fill="#404040">F</text><text x="840.5" y="13" font-family='"Liberation Sans", sans-serif' font-size="11.5" font-weight="bold" fill="#505050">A</text><rect x="866.5" y="1.5" width="12" height="13" fill="none" stroke="#505050" stroke-width="0.9" stroke-dasharray="1,1"/><text x="868.5" y="12.5" font-family='"Liberation Sans", sans-serif' font-size="11" font-weight="bold" fill="#505050">T</text><path d="M894 4L897 1L900 4L897 7Z M902 11L905 8L908 11L905 14Z" fill="#404040"/><path d="M897 7L900 10L905 4" stroke="#404040" stroke-width="1.2" fill="none"/><polygon points="915,7 921,7 918,10" fill="#000"/><rect x="926" y="1" width="1" height="17" fill="#a0a0a0" shape-rendering="crispEdges"/><rect x="927" y="1" width="1" height="17" fill="#fff" shape-rendering="crispEdges"/><rect x="930" y="1" width="3" height="1" fill="#b0b0b0" shape-rendering="crispEdges"/><rect x="930" y="3" width="3" height="1" fill="#b0b0b0" shape-rendering="crispEdges"/><rect x="930" y="5" width="3" height="1" fill="#b0b0b0" shape-rendering="crispEdges"/><rect x="930" y="7" width="3" height="1" fill="#b0b0b0" shape-rendering="crispEdges"/><rect x="930" y="9" width="3" height="1" fill="#b0b0b0" shape-rendering="crispEdges"/><rect x="930" y="11" width="3" height="1" fill="#b0b0b0" shape-rendering="crispEdges"/><rect x="930" y="13" width="3" height="1" fill="#b0b0b0" shape-rendering="crispEdges"/><rect x="930" y="15" width="3" height="1" fill="#b0b0b0" shape-rendering="crispEdges"/><rect x="930" y="17" width="3" height="1" fill="#b0b0b0" shape-rendering="crispEdges"/><rect x="1077" y="0" width="24" height="18" fill="#f7f7f7"/><rect x="1076" y="1" width="1" height="17" fill="#a0a0a0" shape-rendering="crispEdges"/><rect x="1077" y="1" width="1" height="17" fill="#fff" shape-rendering="crispEdges"/><text x="941.5" y="12" font-family='"Liberation Sans", sans-serif' font-size="10" fill="#303030" textLength="13" lengthAdjust="spacingAndGlyphs">M1</text><text x="969.5" y="12" font-family='"Liberation Sans", sans-serif' font-size="10" fill="#303030" textLength="13" lengthAdjust="spacingAndGlyphs">M5</text><text x="995.5" y="12" font-family='"Liberation Sans", sans-serif' font-size="10" fill="#303030" textLength="18" lengthAdjust="spacingAndGlyphs">M15</text><text x="1022.5" y="12" font-family='"Liberation Sans", sans-serif' font-size="10" fill="#303030" textLength="19" lengthAdjust="spacingAndGlyphs">M30</text><text x="1053.5" y="12" font-family='"Liberation Sans", sans-serif' font-size="10" fill="#303030" textLength="13" lengthAdjust="spacingAndGlyphs">H1</text><text x="1081.5" y="12" font-family='"Liberation Sans", sans-serif' font-size="10" fill="#303030" textLength="13" lengthAdjust="spacingAndGlyphs">H4</text><text x="1109.5" y="12" font-family='"Liberation Sans", sans-serif' font-size="10" fill="#303030" textLength="13" lengthAdjust="spacingAndGlyphs">D1</text><text x="1137.5" y="12" font-family='"Liberation Sans", sans-serif' font-size="10" fill="#303030" textLength="15" lengthAdjust="spacingAndGlyphs">W1</text><text x="1163.5" y="12" font-family='"Liberation Sans", sans-serif' font-size="10" fill="#303030" textLength="16" lengthAdjust="spacingAndGlyphs">MN</text><rect x="1187" y="1" width="1" height="17" fill="#a0a0a0" shape-rendering="crispEdges"/><rect x="1188" y="1" width="1" height="17" fill="#fff" shape-rendering="crispEdges"/><circle cx="1657.5" cy="5.3" r="3.8" fill="#f4f4ff" stroke="#2a5ad8" stroke-width="1.2"/><line x1="1654.6" y1="8.4" x2="1650.5" y2="12.5" stroke="#2a5ad8" stroke-width="2.4"/><ellipse cx="1680" cy="10" rx="6" ry="4.6" fill="#e4e4ea" stroke="#a8a8a8" stroke-width="0.9"/><polygon points="1677,13.5 1676.8,16.5 1680,14" fill="#a0a0a0"/><circle cx="1688.5" cy="6" r="8.2" fill="#dc3418"/><path d="M1686 2.5L1688.8 1.2V9.6M1686.3 9.8H1691.3" stroke="#fff" stroke-width="1.5" fill="none"/>
</svg></body></html>
